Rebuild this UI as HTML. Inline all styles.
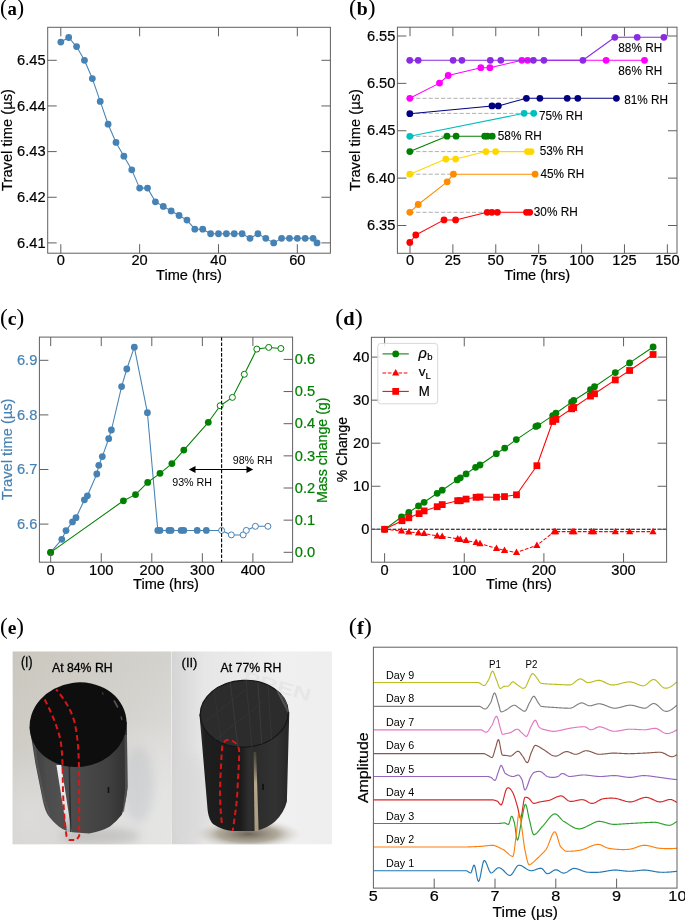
<!DOCTYPE html>
<html><head><meta charset="utf-8"><style>html,body{margin:0;padding:0;background:#fff;width:685px;height:920px;overflow:hidden}svg{display:block;will-change:transform}text{font-family:"Liberation Sans",sans-serif}</style></head><body>
<svg width="685" height="920" viewBox="0 0 685 920">
<rect width="685" height="920" fill="#fff"/>
<text x="0" y="14.6" style="font-family:'Liberation Serif',serif" font-size="22.5" textLength="24.2" lengthAdjust="spacingAndGlyphs">(<tspan font-size="19" style="font-weight:bold">a</tspan>)</text>
<polyline points="60.8,42.04 68.68,37.48 76.57,46.6 84.45,60.3 92.34,78.56 100.22,101.39 108.1,124.21 115.99,142.47 123.87,156.16 131.76,169.86 139.64,188.12 147.52,188.12 155.41,201.82 163.29,206.38 171.18,210.95 179.06,215.51 186.94,220.08 194.83,229.2 202.71,229.2 210.6,233.77 218.48,233.77 226.36,233.77 234.25,233.77 242.13,233.77 250.02,238.34 257.9,233.77 265.78,238.34 273.67,242.9 281.55,238.34 289.44,238.34 297.32,238.34 305.2,238.34 313.09,238.34 317.03,242.9" fill="none" stroke="#4682b4" stroke-width="1.05" stroke-linejoin="round"/>
<circle cx="60.8" cy="42.04" r="3.4" fill="#4682b4"/>
<circle cx="68.68" cy="37.48" r="3.4" fill="#4682b4"/>
<circle cx="76.57" cy="46.6" r="3.4" fill="#4682b4"/>
<circle cx="84.45" cy="60.3" r="3.4" fill="#4682b4"/>
<circle cx="92.34" cy="78.56" r="3.4" fill="#4682b4"/>
<circle cx="100.22" cy="101.39" r="3.4" fill="#4682b4"/>
<circle cx="108.1" cy="124.21" r="3.4" fill="#4682b4"/>
<circle cx="115.99" cy="142.47" r="3.4" fill="#4682b4"/>
<circle cx="123.87" cy="156.16" r="3.4" fill="#4682b4"/>
<circle cx="131.76" cy="169.86" r="3.4" fill="#4682b4"/>
<circle cx="139.64" cy="188.12" r="3.4" fill="#4682b4"/>
<circle cx="147.52" cy="188.12" r="3.4" fill="#4682b4"/>
<circle cx="155.41" cy="201.82" r="3.4" fill="#4682b4"/>
<circle cx="163.29" cy="206.38" r="3.4" fill="#4682b4"/>
<circle cx="171.18" cy="210.95" r="3.4" fill="#4682b4"/>
<circle cx="179.06" cy="215.51" r="3.4" fill="#4682b4"/>
<circle cx="186.94" cy="220.08" r="3.4" fill="#4682b4"/>
<circle cx="194.83" cy="229.2" r="3.4" fill="#4682b4"/>
<circle cx="202.71" cy="229.2" r="3.4" fill="#4682b4"/>
<circle cx="210.6" cy="233.77" r="3.4" fill="#4682b4"/>
<circle cx="218.48" cy="233.77" r="3.4" fill="#4682b4"/>
<circle cx="226.36" cy="233.77" r="3.4" fill="#4682b4"/>
<circle cx="234.25" cy="233.77" r="3.4" fill="#4682b4"/>
<circle cx="242.13" cy="233.77" r="3.4" fill="#4682b4"/>
<circle cx="250.02" cy="238.34" r="3.4" fill="#4682b4"/>
<circle cx="257.9" cy="233.77" r="3.4" fill="#4682b4"/>
<circle cx="265.78" cy="238.34" r="3.4" fill="#4682b4"/>
<circle cx="273.67" cy="242.9" r="3.4" fill="#4682b4"/>
<circle cx="281.55" cy="238.34" r="3.4" fill="#4682b4"/>
<circle cx="289.44" cy="238.34" r="3.4" fill="#4682b4"/>
<circle cx="297.32" cy="238.34" r="3.4" fill="#4682b4"/>
<circle cx="305.2" cy="238.34" r="3.4" fill="#4682b4"/>
<circle cx="313.09" cy="238.34" r="3.4" fill="#4682b4"/>
<circle cx="317.03" cy="242.9" r="3.4" fill="#4682b4"/>
<rect x="47.7" y="27.3" width="282.7" height="225.9" fill="none" stroke="#606060" stroke-width="1"/>
<line x1="60.8" y1="253.2" x2="60.8" y2="244.2" stroke="#606060" stroke-width="1"/>
<line x1="60.8" y1="27.3" x2="60.8" y2="36.3" stroke="#606060" stroke-width="1"/>
<line x1="139.64" y1="253.2" x2="139.64" y2="244.2" stroke="#606060" stroke-width="1"/>
<line x1="139.64" y1="27.3" x2="139.64" y2="36.3" stroke="#606060" stroke-width="1"/>
<line x1="218.48" y1="253.2" x2="218.48" y2="244.2" stroke="#606060" stroke-width="1"/>
<line x1="218.48" y1="27.3" x2="218.48" y2="36.3" stroke="#606060" stroke-width="1"/>
<line x1="297.32" y1="253.2" x2="297.32" y2="244.2" stroke="#606060" stroke-width="1"/>
<line x1="297.32" y1="27.3" x2="297.32" y2="36.3" stroke="#606060" stroke-width="1"/>
<line x1="47.7" y1="242.9" x2="56.7" y2="242.9" stroke="#606060" stroke-width="1"/>
<line x1="330.4" y1="242.9" x2="321.4" y2="242.9" stroke="#606060" stroke-width="1"/>
<line x1="47.7" y1="197.25" x2="56.7" y2="197.25" stroke="#606060" stroke-width="1"/>
<line x1="330.4" y1="197.25" x2="321.4" y2="197.25" stroke="#606060" stroke-width="1"/>
<line x1="47.7" y1="151.6" x2="56.7" y2="151.6" stroke="#606060" stroke-width="1"/>
<line x1="330.4" y1="151.6" x2="321.4" y2="151.6" stroke="#606060" stroke-width="1"/>
<line x1="47.7" y1="105.95" x2="56.7" y2="105.95" stroke="#606060" stroke-width="1"/>
<line x1="330.4" y1="105.95" x2="321.4" y2="105.95" stroke="#606060" stroke-width="1"/>
<line x1="47.7" y1="60.3" x2="56.7" y2="60.3" stroke="#606060" stroke-width="1"/>
<line x1="330.4" y1="60.3" x2="321.4" y2="60.3" stroke="#606060" stroke-width="1"/>
<text x="60.8" y="265.3" font-size="13.82" text-anchor="middle" stroke="#000" stroke-width="0.2" textLength="8.14" lengthAdjust="spacingAndGlyphs">0</text>
<text x="139.64" y="265.3" font-size="13.82" text-anchor="middle" stroke="#000" stroke-width="0.2" textLength="16.29" lengthAdjust="spacingAndGlyphs">20</text>
<text x="218.48" y="265.3" font-size="13.82" text-anchor="middle" stroke="#000" stroke-width="0.2" textLength="16.29" lengthAdjust="spacingAndGlyphs">40</text>
<text x="297.32" y="265.3" font-size="13.82" text-anchor="middle" stroke="#000" stroke-width="0.2" textLength="16.29" lengthAdjust="spacingAndGlyphs">60</text>
<text x="45.6" y="247.57" font-size="13.82" text-anchor="end" stroke="#000" stroke-width="0.2" textLength="28.5" lengthAdjust="spacingAndGlyphs">6.41</text>
<text x="45.6" y="201.92" font-size="13.82" text-anchor="end" stroke="#000" stroke-width="0.2" textLength="28.5" lengthAdjust="spacingAndGlyphs">6.42</text>
<text x="45.6" y="156.27" font-size="13.82" text-anchor="end" stroke="#000" stroke-width="0.2" textLength="28.5" lengthAdjust="spacingAndGlyphs">6.43</text>
<text x="45.6" y="110.62" font-size="13.82" text-anchor="end" stroke="#000" stroke-width="0.2" textLength="28.5" lengthAdjust="spacingAndGlyphs">6.44</text>
<text x="45.6" y="64.97" font-size="13.82" text-anchor="end" stroke="#000" stroke-width="0.2" textLength="28.5" lengthAdjust="spacingAndGlyphs">6.45</text>
<text x="189" y="279.6" font-size="13.82" text-anchor="middle" stroke="#000" stroke-width="0.2" textLength="65.82" lengthAdjust="spacingAndGlyphs">Time (hrs)</text>
<text x="11.5" y="140" font-size="13.82" text-anchor="middle" stroke="#000" stroke-width="0.2" textLength="101.79" lengthAdjust="spacingAndGlyphs" transform="rotate(-90 11.5 140)">Travel time (µs)</text>
<text x="348.9" y="14.6" style="font-family:'Liberation Serif',serif" font-size="22.5" textLength="26.6" lengthAdjust="spacingAndGlyphs">(<tspan font-size="19" style="font-weight:bold">b</tspan>)</text>
<line x1="410" y1="212.3" x2="487" y2="212.3" stroke="#b0b0b0" stroke-width="1" stroke-dasharray="4.2,2"/>
<line x1="410" y1="174.2" x2="453.4" y2="174.2" stroke="#b0b0b0" stroke-width="1" stroke-dasharray="4.2,2"/>
<line x1="410" y1="151.6" x2="486" y2="151.6" stroke="#b0b0b0" stroke-width="1" stroke-dasharray="4.2,2"/>
<line x1="410" y1="136.3" x2="447" y2="136.3" stroke="#b0b0b0" stroke-width="1" stroke-dasharray="4.2,2"/>
<line x1="410" y1="113.4" x2="524" y2="113.4" stroke="#b0b0b0" stroke-width="1" stroke-dasharray="4.2,2"/>
<line x1="410" y1="98.3" x2="526.4" y2="98.3" stroke="#b0b0b0" stroke-width="1" stroke-dasharray="4.2,2"/>
<polyline points="409.8,242.5 415.8,235 444,219.9 455.6,219.9 487.2,212.3 491.9,212.3 497.4,212.3 526.5,212.3 529.7,212.3" fill="none" stroke="#ff0000" stroke-width="1.05" stroke-linejoin="round"/>
<circle cx="409.8" cy="242.5" r="3.4" fill="#ff0000"/>
<circle cx="415.8" cy="235" r="3.4" fill="#ff0000"/>
<circle cx="444" cy="219.9" r="3.4" fill="#ff0000"/>
<circle cx="455.6" cy="219.9" r="3.4" fill="#ff0000"/>
<circle cx="487.2" cy="212.3" r="3.4" fill="#ff0000"/>
<circle cx="491.9" cy="212.3" r="3.4" fill="#ff0000"/>
<circle cx="497.4" cy="212.3" r="3.4" fill="#ff0000"/>
<circle cx="526.5" cy="212.3" r="3.4" fill="#ff0000"/>
<circle cx="529.7" cy="212.3" r="3.4" fill="#ff0000"/>
<polyline points="409.8,212.3 418.2,204.5 447.2,181.8 453.4,174.2 535.1,174.2" fill="none" stroke="#ff8c00" stroke-width="1.05" stroke-linejoin="round"/>
<circle cx="409.8" cy="212.3" r="3.4" fill="#ff8c00"/>
<circle cx="418.2" cy="204.5" r="3.4" fill="#ff8c00"/>
<circle cx="447.2" cy="181.8" r="3.4" fill="#ff8c00"/>
<circle cx="453.4" cy="174.2" r="3.4" fill="#ff8c00"/>
<circle cx="535.1" cy="174.2" r="3.4" fill="#ff8c00"/>
<polyline points="409.8,174.2 445.8,159.1 455.6,159.1 485.9,151.6 495.6,151.6 527.5,151.6 531,151.6" fill="none" stroke="#ffd700" stroke-width="1.05" stroke-linejoin="round"/>
<circle cx="409.8" cy="174.2" r="3.4" fill="#ffd700"/>
<circle cx="445.8" cy="159.1" r="3.4" fill="#ffd700"/>
<circle cx="455.6" cy="159.1" r="3.4" fill="#ffd700"/>
<circle cx="485.9" cy="151.6" r="3.4" fill="#ffd700"/>
<circle cx="495.6" cy="151.6" r="3.4" fill="#ffd700"/>
<circle cx="527.5" cy="151.6" r="3.4" fill="#ffd700"/>
<circle cx="531" cy="151.6" r="3.4" fill="#ffd700"/>
<polyline points="409.8,151.6 447,136.2 456.1,136.2 484.7,136.2 487.3,136.2 492.2,136.2" fill="none" stroke="#008000" stroke-width="1.05" stroke-linejoin="round"/>
<circle cx="409.8" cy="151.6" r="3.4" fill="#008000"/>
<circle cx="447" cy="136.2" r="3.4" fill="#008000"/>
<circle cx="456.1" cy="136.2" r="3.4" fill="#008000"/>
<circle cx="484.7" cy="136.2" r="3.4" fill="#008000"/>
<circle cx="487.3" cy="136.2" r="3.4" fill="#008000"/>
<circle cx="492.2" cy="136.2" r="3.4" fill="#008000"/>
<polyline points="409.8,136.3 524.1,113.3 533.7,113.3" fill="none" stroke="#00bfbf" stroke-width="1.05" stroke-linejoin="round"/>
<circle cx="409.8" cy="136.3" r="3.4" fill="#00bfbf"/>
<circle cx="524.1" cy="113.3" r="3.4" fill="#00bfbf"/>
<circle cx="533.7" cy="113.3" r="3.4" fill="#00bfbf"/>
<polyline points="409.8,113.7 492,105.9 498.3,105.9 526.4,98.3 539.9,98.3 567.2,98.3 577.8,98.3 616.4,98.3" fill="none" stroke="#000080" stroke-width="1.05" stroke-linejoin="round"/>
<circle cx="409.8" cy="113.7" r="3.4" fill="#000080"/>
<circle cx="492" cy="105.9" r="3.4" fill="#000080"/>
<circle cx="498.3" cy="105.9" r="3.4" fill="#000080"/>
<circle cx="526.4" cy="98.3" r="3.4" fill="#000080"/>
<circle cx="539.9" cy="98.3" r="3.4" fill="#000080"/>
<circle cx="567.2" cy="98.3" r="3.4" fill="#000080"/>
<circle cx="577.8" cy="98.3" r="3.4" fill="#000080"/>
<circle cx="616.4" cy="98.3" r="3.4" fill="#000080"/>
<polyline points="409.8,98.3 439.5,83.1 448.2,75.5 480.8,67.7 489.9,67.7 521.8,60.3 527.6,60.3 606.1,60.3 644.5,60.3" fill="none" stroke="#ff00ff" stroke-width="1.05" stroke-linejoin="round"/>
<circle cx="409.8" cy="98.3" r="3.4" fill="#ff00ff"/>
<circle cx="439.5" cy="83.1" r="3.4" fill="#ff00ff"/>
<circle cx="448.2" cy="75.5" r="3.4" fill="#ff00ff"/>
<circle cx="480.8" cy="67.7" r="3.4" fill="#ff00ff"/>
<circle cx="489.9" cy="67.7" r="3.4" fill="#ff00ff"/>
<circle cx="521.8" cy="60.3" r="3.4" fill="#ff00ff"/>
<circle cx="527.6" cy="60.3" r="3.4" fill="#ff00ff"/>
<circle cx="606.1" cy="60.3" r="3.4" fill="#ff00ff"/>
<circle cx="644.5" cy="60.3" r="3.4" fill="#ff00ff"/>
<polyline points="409.75,60.3 418.2,60.3 453.1,60.3 461.9,60.3 490.3,60.3 500.8,60.3 533.4,60.3 543.9,60.3 582.9,60.3 614.8,37.3 637.2,37.3 663.9,37.3" fill="none" stroke="#8a2be2" stroke-width="1.05" stroke-linejoin="round"/>
<circle cx="409.75" cy="60.3" r="3.4" fill="#8a2be2"/>
<circle cx="418.2" cy="60.3" r="3.4" fill="#8a2be2"/>
<circle cx="453.1" cy="60.3" r="3.4" fill="#8a2be2"/>
<circle cx="461.9" cy="60.3" r="3.4" fill="#8a2be2"/>
<circle cx="490.3" cy="60.3" r="3.4" fill="#8a2be2"/>
<circle cx="500.8" cy="60.3" r="3.4" fill="#8a2be2"/>
<circle cx="533.4" cy="60.3" r="3.4" fill="#8a2be2"/>
<circle cx="543.9" cy="60.3" r="3.4" fill="#8a2be2"/>
<circle cx="582.9" cy="60.3" r="3.4" fill="#8a2be2"/>
<circle cx="614.8" cy="37.3" r="3.4" fill="#8a2be2"/>
<circle cx="637.2" cy="37.3" r="3.4" fill="#8a2be2"/>
<circle cx="663.9" cy="37.3" r="3.4" fill="#8a2be2"/>
<text x="618.3" y="52.01" font-size="11.88" stroke="#000" stroke-width="0.1" textLength="43.86" lengthAdjust="spacingAndGlyphs">88% RH</text>
<text x="618.3" y="74.81" font-size="11.88" stroke="#000" stroke-width="0.1" textLength="43.86" lengthAdjust="spacingAndGlyphs">86% RH</text>
<text x="624.2" y="104.01" font-size="11.88" stroke="#000" stroke-width="0.1" textLength="43.86" lengthAdjust="spacingAndGlyphs">81% RH</text>
<text x="539" y="119.51" font-size="11.88" stroke="#000" stroke-width="0.1" textLength="43.86" lengthAdjust="spacingAndGlyphs">75% RH</text>
<text x="497.8" y="140.21" font-size="11.88" stroke="#000" stroke-width="0.1" textLength="43.86" lengthAdjust="spacingAndGlyphs">58% RH</text>
<text x="539.7" y="154.51" font-size="11.88" stroke="#000" stroke-width="0.1" textLength="43.86" lengthAdjust="spacingAndGlyphs">53% RH</text>
<text x="540.5" y="178.01" font-size="11.88" stroke="#000" stroke-width="0.1" textLength="43.86" lengthAdjust="spacingAndGlyphs">45% RH</text>
<text x="533.8" y="216.41" font-size="11.88" stroke="#000" stroke-width="0.1" textLength="43.86" lengthAdjust="spacingAndGlyphs">30% RH</text>
<rect x="397.4" y="27.2" width="279.6" height="226.1" fill="none" stroke="#606060" stroke-width="1"/>
<line x1="410" y1="253.3" x2="410" y2="244.3" stroke="#606060" stroke-width="1"/>
<line x1="410" y1="27.2" x2="410" y2="36.2" stroke="#606060" stroke-width="1"/>
<line x1="452.89" y1="253.3" x2="452.89" y2="244.3" stroke="#606060" stroke-width="1"/>
<line x1="452.89" y1="27.2" x2="452.89" y2="36.2" stroke="#606060" stroke-width="1"/>
<line x1="495.78" y1="253.3" x2="495.78" y2="244.3" stroke="#606060" stroke-width="1"/>
<line x1="495.78" y1="27.2" x2="495.78" y2="36.2" stroke="#606060" stroke-width="1"/>
<line x1="538.68" y1="253.3" x2="538.68" y2="244.3" stroke="#606060" stroke-width="1"/>
<line x1="538.68" y1="27.2" x2="538.68" y2="36.2" stroke="#606060" stroke-width="1"/>
<line x1="581.57" y1="253.3" x2="581.57" y2="244.3" stroke="#606060" stroke-width="1"/>
<line x1="581.57" y1="27.2" x2="581.57" y2="36.2" stroke="#606060" stroke-width="1"/>
<line x1="624.46" y1="253.3" x2="624.46" y2="244.3" stroke="#606060" stroke-width="1"/>
<line x1="624.46" y1="27.2" x2="624.46" y2="36.2" stroke="#606060" stroke-width="1"/>
<line x1="667.36" y1="253.3" x2="667.36" y2="244.3" stroke="#606060" stroke-width="1"/>
<line x1="667.36" y1="27.2" x2="667.36" y2="36.2" stroke="#606060" stroke-width="1"/>
<line x1="397.4" y1="225.5" x2="406.4" y2="225.5" stroke="#606060" stroke-width="1"/>
<line x1="677" y1="225.5" x2="668" y2="225.5" stroke="#606060" stroke-width="1"/>
<line x1="397.4" y1="178.12" x2="406.4" y2="178.12" stroke="#606060" stroke-width="1"/>
<line x1="677" y1="178.12" x2="668" y2="178.12" stroke="#606060" stroke-width="1"/>
<line x1="397.4" y1="130.75" x2="406.4" y2="130.75" stroke="#606060" stroke-width="1"/>
<line x1="677" y1="130.75" x2="668" y2="130.75" stroke="#606060" stroke-width="1"/>
<line x1="397.4" y1="83.37" x2="406.4" y2="83.37" stroke="#606060" stroke-width="1"/>
<line x1="677" y1="83.37" x2="668" y2="83.37" stroke="#606060" stroke-width="1"/>
<line x1="397.4" y1="36" x2="406.4" y2="36" stroke="#606060" stroke-width="1"/>
<line x1="677" y1="36" x2="668" y2="36" stroke="#606060" stroke-width="1"/>
<text x="410" y="264.6" font-size="13.82" text-anchor="middle" stroke="#000" stroke-width="0.2" textLength="8.14" lengthAdjust="spacingAndGlyphs">0</text>
<text x="452.89" y="264.6" font-size="13.82" text-anchor="middle" stroke="#000" stroke-width="0.2" textLength="16.29" lengthAdjust="spacingAndGlyphs">25</text>
<text x="495.78" y="264.6" font-size="13.82" text-anchor="middle" stroke="#000" stroke-width="0.2" textLength="16.29" lengthAdjust="spacingAndGlyphs">50</text>
<text x="538.68" y="264.6" font-size="13.82" text-anchor="middle" stroke="#000" stroke-width="0.2" textLength="16.29" lengthAdjust="spacingAndGlyphs">75</text>
<text x="581.57" y="264.6" font-size="13.82" text-anchor="middle" stroke="#000" stroke-width="0.2" textLength="24.43" lengthAdjust="spacingAndGlyphs">100</text>
<text x="624.46" y="264.6" font-size="13.82" text-anchor="middle" stroke="#000" stroke-width="0.2" textLength="24.43" lengthAdjust="spacingAndGlyphs">125</text>
<text x="667.36" y="264.6" font-size="13.82" text-anchor="middle" stroke="#000" stroke-width="0.2" textLength="24.43" lengthAdjust="spacingAndGlyphs">150</text>
<text x="395.4" y="230.17" font-size="13.82" text-anchor="end" stroke="#000" stroke-width="0.2" textLength="28.5" lengthAdjust="spacingAndGlyphs">6.35</text>
<text x="395.4" y="182.79" font-size="13.82" text-anchor="end" stroke="#000" stroke-width="0.2" textLength="28.5" lengthAdjust="spacingAndGlyphs">6.40</text>
<text x="395.4" y="135.42" font-size="13.82" text-anchor="end" stroke="#000" stroke-width="0.2" textLength="28.5" lengthAdjust="spacingAndGlyphs">6.45</text>
<text x="395.4" y="88.04" font-size="13.82" text-anchor="end" stroke="#000" stroke-width="0.2" textLength="28.5" lengthAdjust="spacingAndGlyphs">6.50</text>
<text x="395.4" y="40.67" font-size="13.82" text-anchor="end" stroke="#000" stroke-width="0.2" textLength="28.5" lengthAdjust="spacingAndGlyphs">6.55</text>
<text x="537.2" y="279.6" font-size="13.82" text-anchor="middle" stroke="#000" stroke-width="0.2" textLength="65.82" lengthAdjust="spacingAndGlyphs">Time (hrs)</text>
<text x="360.1" y="140" font-size="13.82" text-anchor="middle" stroke="#000" stroke-width="0.2" textLength="101.79" lengthAdjust="spacingAndGlyphs" transform="rotate(-90 360.1 140)">Travel time (µs)</text>
<text x="0" y="324.5" style="font-family:'Liberation Serif',serif" font-size="22.5" textLength="24.3" lengthAdjust="spacingAndGlyphs">(<tspan font-size="19" style="font-weight:bold">c</tspan>)</text>
<polyline points="50.6,552.4 61.8,539.3 66,530.6 72.5,521.9 76,517.7 84.4,499.8 87.4,495.8 96.8,474 98.8,465.3 102.3,456.6 108.7,438.7 111.4,430 121.6,386.6 126.8,369 134.3,347.2 147.4,412.7 157.8,530.4 160,530.4 168.9,530.4 171.1,530.4 181.1,530.4 183.8,530.4 197.2,530.4 206.3,530.4 221.6,530.4 231.3,534.9 243.2,534.9 246.3,530.4 255.4,526.3 267.9,526.3" fill="none" stroke="#4682b4" stroke-width="1.05" stroke-linejoin="round"/>
<circle cx="50.6" cy="552.4" r="3.4" fill="#4682b4"/>
<circle cx="61.8" cy="539.3" r="3.4" fill="#4682b4"/>
<circle cx="66" cy="530.6" r="3.4" fill="#4682b4"/>
<circle cx="72.5" cy="521.9" r="3.4" fill="#4682b4"/>
<circle cx="76" cy="517.7" r="3.4" fill="#4682b4"/>
<circle cx="84.4" cy="499.8" r="3.4" fill="#4682b4"/>
<circle cx="87.4" cy="495.8" r="3.4" fill="#4682b4"/>
<circle cx="96.8" cy="474" r="3.4" fill="#4682b4"/>
<circle cx="98.8" cy="465.3" r="3.4" fill="#4682b4"/>
<circle cx="102.3" cy="456.6" r="3.4" fill="#4682b4"/>
<circle cx="108.7" cy="438.7" r="3.4" fill="#4682b4"/>
<circle cx="111.4" cy="430" r="3.4" fill="#4682b4"/>
<circle cx="121.6" cy="386.6" r="3.4" fill="#4682b4"/>
<circle cx="126.8" cy="369" r="3.4" fill="#4682b4"/>
<circle cx="134.3" cy="347.2" r="3.4" fill="#4682b4"/>
<circle cx="147.4" cy="412.7" r="3.4" fill="#4682b4"/>
<circle cx="157.8" cy="530.4" r="3.4" fill="#4682b4"/>
<circle cx="160" cy="530.4" r="3.4" fill="#4682b4"/>
<circle cx="168.9" cy="530.4" r="3.4" fill="#4682b4"/>
<circle cx="171.1" cy="530.4" r="3.4" fill="#4682b4"/>
<circle cx="181.1" cy="530.4" r="3.4" fill="#4682b4"/>
<circle cx="183.8" cy="530.4" r="3.4" fill="#4682b4"/>
<circle cx="197.2" cy="530.4" r="3.4" fill="#4682b4"/>
<circle cx="206.3" cy="530.4" r="3.4" fill="#4682b4"/>
<circle cx="221.6" cy="530.4" r="3" fill="#fff" stroke="#4682b4" stroke-width="1"/>
<circle cx="231.3" cy="534.9" r="3" fill="#fff" stroke="#4682b4" stroke-width="1"/>
<circle cx="243.2" cy="534.9" r="3" fill="#fff" stroke="#4682b4" stroke-width="1"/>
<circle cx="246.3" cy="530.4" r="3" fill="#fff" stroke="#4682b4" stroke-width="1"/>
<circle cx="255.4" cy="526.3" r="3" fill="#fff" stroke="#4682b4" stroke-width="1"/>
<circle cx="267.9" cy="526.3" r="3" fill="#fff" stroke="#4682b4" stroke-width="1"/>
<polyline points="50.6,552.4 123.4,500.8 135.5,494.6 147.7,482.4 160,473.3 171.9,463.6 183.8,450.1 208.3,422.3 220.2,405.7 232.4,397.4 244.3,374.3 256.8,349.1 268.7,347.4 280.9,348.5" fill="none" stroke="#008000" stroke-width="1.05" stroke-linejoin="round"/>
<circle cx="50.6" cy="552.4" r="3.4" fill="#008000"/>
<circle cx="123.4" cy="500.8" r="3.4" fill="#008000"/>
<circle cx="135.5" cy="494.6" r="3.4" fill="#008000"/>
<circle cx="147.7" cy="482.4" r="3.4" fill="#008000"/>
<circle cx="160" cy="473.3" r="3.4" fill="#008000"/>
<circle cx="171.9" cy="463.6" r="3.4" fill="#008000"/>
<circle cx="183.8" cy="450.1" r="3.4" fill="#008000"/>
<circle cx="208.3" cy="422.3" r="3.4" fill="#008000"/>
<circle cx="220.2" cy="405.7" r="3" fill="#fff" stroke="#008000" stroke-width="1"/>
<circle cx="232.4" cy="397.4" r="3" fill="#fff" stroke="#008000" stroke-width="1"/>
<circle cx="244.3" cy="374.3" r="3" fill="#fff" stroke="#008000" stroke-width="1"/>
<circle cx="256.8" cy="349.1" r="3" fill="#fff" stroke="#008000" stroke-width="1"/>
<circle cx="268.7" cy="347.4" r="3" fill="#fff" stroke="#008000" stroke-width="1"/>
<circle cx="280.9" cy="348.5" r="3" fill="#fff" stroke="#008000" stroke-width="1"/>
<line x1="221.6" y1="337.1" x2="221.6" y2="562.2" stroke="#000" stroke-width="1.1" stroke-dasharray="3.7,1.6"/>
<line x1="193" y1="469.5" x2="249" y2="469.5" stroke="#000" stroke-width="1.2"/>
<path d="M188.8,469.5 L195.5,466 L195.5,473 Z" fill="#000"/>
<path d="M253.2,469.5 L246.5,466 L246.5,473 Z" fill="#000"/>
<text x="232.7" y="463.84" font-size="10.8" textLength="39.87" lengthAdjust="spacingAndGlyphs">98% RH</text>
<text x="172.2" y="486.04" font-size="10.8" textLength="39.87" lengthAdjust="spacingAndGlyphs">93% RH</text>
<rect x="39.4" y="337.1" width="253.2" height="225.1" fill="none" stroke="#606060" stroke-width="1"/>
<line x1="50.7" y1="562.2" x2="50.7" y2="553.2" stroke="#606060" stroke-width="1"/>
<line x1="50.7" y1="337.1" x2="50.7" y2="346.1" stroke="#606060" stroke-width="1"/>
<line x1="101.25" y1="562.2" x2="101.25" y2="553.2" stroke="#606060" stroke-width="1"/>
<line x1="101.25" y1="337.1" x2="101.25" y2="346.1" stroke="#606060" stroke-width="1"/>
<line x1="151.8" y1="562.2" x2="151.8" y2="553.2" stroke="#606060" stroke-width="1"/>
<line x1="151.8" y1="337.1" x2="151.8" y2="346.1" stroke="#606060" stroke-width="1"/>
<line x1="202.35" y1="562.2" x2="202.35" y2="553.2" stroke="#606060" stroke-width="1"/>
<line x1="202.35" y1="337.1" x2="202.35" y2="346.1" stroke="#606060" stroke-width="1"/>
<line x1="252.9" y1="562.2" x2="252.9" y2="553.2" stroke="#606060" stroke-width="1"/>
<line x1="252.9" y1="337.1" x2="252.9" y2="346.1" stroke="#606060" stroke-width="1"/>
<line x1="39.4" y1="524.1" x2="48.4" y2="524.1" stroke="#606060" stroke-width="1"/>
<line x1="39.4" y1="469.5" x2="48.4" y2="469.5" stroke="#606060" stroke-width="1"/>
<line x1="39.4" y1="414.9" x2="48.4" y2="414.9" stroke="#606060" stroke-width="1"/>
<line x1="39.4" y1="360.3" x2="48.4" y2="360.3" stroke="#606060" stroke-width="1"/>
<line x1="292.6" y1="552.3" x2="283.6" y2="552.3" stroke="#606060" stroke-width="1"/>
<line x1="292.6" y1="520.15" x2="283.6" y2="520.15" stroke="#606060" stroke-width="1"/>
<line x1="292.6" y1="488" x2="283.6" y2="488" stroke="#606060" stroke-width="1"/>
<line x1="292.6" y1="455.85" x2="283.6" y2="455.85" stroke="#606060" stroke-width="1"/>
<line x1="292.6" y1="423.7" x2="283.6" y2="423.7" stroke="#606060" stroke-width="1"/>
<line x1="292.6" y1="391.55" x2="283.6" y2="391.55" stroke="#606060" stroke-width="1"/>
<line x1="292.6" y1="359.4" x2="283.6" y2="359.4" stroke="#606060" stroke-width="1"/>
<text x="50.7" y="575" font-size="13.82" text-anchor="middle" stroke="#000" stroke-width="0.2" textLength="8.14" lengthAdjust="spacingAndGlyphs">0</text>
<text x="101.25" y="575" font-size="13.82" text-anchor="middle" stroke="#000" stroke-width="0.2" textLength="24.43" lengthAdjust="spacingAndGlyphs">100</text>
<text x="151.8" y="575" font-size="13.82" text-anchor="middle" stroke="#000" stroke-width="0.2" textLength="24.43" lengthAdjust="spacingAndGlyphs">200</text>
<text x="202.35" y="575" font-size="13.82" text-anchor="middle" stroke="#000" stroke-width="0.2" textLength="24.43" lengthAdjust="spacingAndGlyphs">300</text>
<text x="252.9" y="575" font-size="13.82" text-anchor="middle" stroke="#000" stroke-width="0.2" textLength="24.43" lengthAdjust="spacingAndGlyphs">400</text>
<text x="37.3" y="528.77" font-size="13.82" text-anchor="end" fill="#4682b4" stroke="#4682b4" stroke-width="0.2" textLength="20.36" lengthAdjust="spacingAndGlyphs">6.6</text>
<text x="37.3" y="474.17" font-size="13.82" text-anchor="end" fill="#4682b4" stroke="#4682b4" stroke-width="0.2" textLength="20.36" lengthAdjust="spacingAndGlyphs">6.7</text>
<text x="37.3" y="419.57" font-size="13.82" text-anchor="end" fill="#4682b4" stroke="#4682b4" stroke-width="0.2" textLength="20.36" lengthAdjust="spacingAndGlyphs">6.8</text>
<text x="37.3" y="364.97" font-size="13.82" text-anchor="end" fill="#4682b4" stroke="#4682b4" stroke-width="0.2" textLength="20.36" lengthAdjust="spacingAndGlyphs">6.9</text>
<text x="294.8" y="556.97" font-size="13.82" fill="#008000" stroke="#008000" stroke-width="0.2" textLength="20.36" lengthAdjust="spacingAndGlyphs">0.0</text>
<text x="294.8" y="524.82" font-size="13.82" fill="#008000" stroke="#008000" stroke-width="0.2" textLength="20.36" lengthAdjust="spacingAndGlyphs">0.1</text>
<text x="294.8" y="492.67" font-size="13.82" fill="#008000" stroke="#008000" stroke-width="0.2" textLength="20.36" lengthAdjust="spacingAndGlyphs">0.2</text>
<text x="294.8" y="460.52" font-size="13.82" fill="#008000" stroke="#008000" stroke-width="0.2" textLength="20.36" lengthAdjust="spacingAndGlyphs">0.3</text>
<text x="294.8" y="428.37" font-size="13.82" fill="#008000" stroke="#008000" stroke-width="0.2" textLength="20.36" lengthAdjust="spacingAndGlyphs">0.4</text>
<text x="294.8" y="396.22" font-size="13.82" fill="#008000" stroke="#008000" stroke-width="0.2" textLength="20.36" lengthAdjust="spacingAndGlyphs">0.5</text>
<text x="294.8" y="364.07" font-size="13.82" fill="#008000" stroke="#008000" stroke-width="0.2" textLength="20.36" lengthAdjust="spacingAndGlyphs">0.6</text>
<text x="166" y="589.2" font-size="13.82" text-anchor="middle" stroke="#000" stroke-width="0.2" textLength="65.82" lengthAdjust="spacingAndGlyphs">Time (hrs)</text>
<text x="11.8" y="449.4" font-size="13.82" text-anchor="middle" fill="#4682b4" stroke="#4682b4" stroke-width="0.2" textLength="101.79" lengthAdjust="spacingAndGlyphs" transform="rotate(-90 11.8 449.4)">Travel time (µs)</text>
<text x="326.8" y="450.3" font-size="13.82" text-anchor="middle" fill="#008000" stroke="#008000" stroke-width="0.2" textLength="105.58" lengthAdjust="spacingAndGlyphs" transform="rotate(-90 326.8 450.3)">Mass change (g)</text>
<text x="335.3" y="324.5" style="font-family:'Liberation Serif',serif" font-size="22.5" textLength="27.5" lengthAdjust="spacingAndGlyphs">(<tspan font-size="19" style="font-weight:bold">d</tspan>)</text>
<line x1="371.4" y1="529.3" x2="666.6" y2="529.3" stroke="#000" stroke-width="1.1" stroke-dasharray="3.7,1.6"/>
<polyline points="384.6,529.3 401.5,517 408.8,512.3 418.5,506 424.1,502.3 437.2,493.3 442.2,490.2 457.2,479.9 460.3,477.8 466.1,473.9 475.6,467.3 480,465 496.3,453.7 504.7,448.1 516.3,439.6 535.9,426.4 537.8,425.6 552.7,415.6 555.9,413.2 571.6,402.1 573.7,400.5 590.5,389.7 594.5,386.7 615.3,372.6 629.6,362.9 653.1,347" fill="none" stroke="#008000" stroke-width="1.05" stroke-linejoin="round"/>
<circle cx="384.6" cy="529.3" r="3.4" fill="#008000"/>
<circle cx="401.5" cy="517" r="3.4" fill="#008000"/>
<circle cx="408.8" cy="512.3" r="3.4" fill="#008000"/>
<circle cx="418.5" cy="506" r="3.4" fill="#008000"/>
<circle cx="424.1" cy="502.3" r="3.4" fill="#008000"/>
<circle cx="437.2" cy="493.3" r="3.4" fill="#008000"/>
<circle cx="442.2" cy="490.2" r="3.4" fill="#008000"/>
<circle cx="457.2" cy="479.9" r="3.4" fill="#008000"/>
<circle cx="460.3" cy="477.8" r="3.4" fill="#008000"/>
<circle cx="466.1" cy="473.9" r="3.4" fill="#008000"/>
<circle cx="475.6" cy="467.3" r="3.4" fill="#008000"/>
<circle cx="480" cy="465" r="3.4" fill="#008000"/>
<circle cx="496.3" cy="453.7" r="3.4" fill="#008000"/>
<circle cx="504.7" cy="448.1" r="3.4" fill="#008000"/>
<circle cx="516.3" cy="439.6" r="3.4" fill="#008000"/>
<circle cx="535.9" cy="426.4" r="3.4" fill="#008000"/>
<circle cx="537.8" cy="425.6" r="3.4" fill="#008000"/>
<circle cx="552.7" cy="415.6" r="3.4" fill="#008000"/>
<circle cx="555.9" cy="413.2" r="3.4" fill="#008000"/>
<circle cx="571.6" cy="402.1" r="3.4" fill="#008000"/>
<circle cx="573.7" cy="400.5" r="3.4" fill="#008000"/>
<circle cx="590.5" cy="389.7" r="3.4" fill="#008000"/>
<circle cx="594.5" cy="386.7" r="3.4" fill="#008000"/>
<circle cx="615.3" cy="372.6" r="3.4" fill="#008000"/>
<circle cx="629.6" cy="362.9" r="3.4" fill="#008000"/>
<circle cx="653.1" cy="347" r="3.4" fill="#008000"/>
<polyline points="384.6,529.3 401.5,530.9 408.8,532 418.5,533 424.1,533.5 437.2,535.9 442.2,536.4 457.7,538.8 460.3,539.3 466.1,540.4 476.1,542.5 480,543.6 496.5,548.4 504.5,550.4 516.5,552.5 536.9,545.4 554.2,531.6 555.7,531.6 572.2,531.6 574,531.6 591.3,531.6 593.7,531.6 615.3,531.6 629.7,531.6 653,531.6" fill="none" stroke="#ff0000" stroke-width="1.05" stroke-linejoin="round" stroke-dasharray="3.7,1.6"/>
<path d="M384.6,525.41 L388.2,531.89 L381,531.89 Z" fill="#ff0000"/>
<path d="M401.5,527.01 L405.1,533.49 L397.9,533.49 Z" fill="#ff0000"/>
<path d="M408.8,528.11 L412.4,534.59 L405.2,534.59 Z" fill="#ff0000"/>
<path d="M418.5,529.11 L422.1,535.59 L414.9,535.59 Z" fill="#ff0000"/>
<path d="M424.1,529.61 L427.7,536.09 L420.5,536.09 Z" fill="#ff0000"/>
<path d="M437.2,532.01 L440.8,538.49 L433.6,538.49 Z" fill="#ff0000"/>
<path d="M442.2,532.51 L445.8,538.99 L438.6,538.99 Z" fill="#ff0000"/>
<path d="M457.7,534.91 L461.3,541.39 L454.1,541.39 Z" fill="#ff0000"/>
<path d="M460.3,535.41 L463.9,541.89 L456.7,541.89 Z" fill="#ff0000"/>
<path d="M466.1,536.51 L469.7,542.99 L462.5,542.99 Z" fill="#ff0000"/>
<path d="M476.1,538.61 L479.7,545.09 L472.5,545.09 Z" fill="#ff0000"/>
<path d="M480,539.71 L483.6,546.19 L476.4,546.19 Z" fill="#ff0000"/>
<path d="M496.5,544.51 L500.1,550.99 L492.9,550.99 Z" fill="#ff0000"/>
<path d="M504.5,546.51 L508.1,552.99 L500.9,552.99 Z" fill="#ff0000"/>
<path d="M516.5,548.61 L520.1,555.09 L512.9,555.09 Z" fill="#ff0000"/>
<path d="M536.9,541.51 L540.5,547.99 L533.3,547.99 Z" fill="#ff0000"/>
<path d="M554.2,527.71 L557.8,534.19 L550.6,534.19 Z" fill="#ff0000"/>
<path d="M555.7,527.71 L559.3,534.19 L552.1,534.19 Z" fill="#ff0000"/>
<path d="M572.2,527.71 L575.8,534.19 L568.6,534.19 Z" fill="#ff0000"/>
<path d="M574,527.71 L577.6,534.19 L570.4,534.19 Z" fill="#ff0000"/>
<path d="M591.3,527.71 L594.9,534.19 L587.7,534.19 Z" fill="#ff0000"/>
<path d="M593.7,527.71 L597.3,534.19 L590.1,534.19 Z" fill="#ff0000"/>
<path d="M615.3,527.71 L618.9,534.19 L611.7,534.19 Z" fill="#ff0000"/>
<path d="M629.7,527.71 L633.3,534.19 L626.1,534.19 Z" fill="#ff0000"/>
<path d="M653,527.71 L656.6,534.19 L649.4,534.19 Z" fill="#ff0000"/>
<polyline points="384.6,529.3 402,520.7 408.8,517.8 419.1,513.6 424.1,510.9 437.2,506.7 442.2,504.6 457.7,500.7 460.3,500.7 466.1,499.1 476.1,497.3 480,497 496.5,497.2 504.5,496.6 516.5,494.8 536.9,465.7 552.7,421.5 555.9,419.4 571.6,408.8 573.7,407.5 590.5,396.1 594.5,393.7 615.3,379.9 629.6,370.5 653.1,354.5" fill="none" stroke="#ff0000" stroke-width="1.05" stroke-linejoin="round"/>
<rect x="381.2" y="525.9" width="6.8" height="6.8" fill="#ff0000"/>
<rect x="398.6" y="517.3" width="6.8" height="6.8" fill="#ff0000"/>
<rect x="405.4" y="514.4" width="6.8" height="6.8" fill="#ff0000"/>
<rect x="415.7" y="510.2" width="6.8" height="6.8" fill="#ff0000"/>
<rect x="420.7" y="507.5" width="6.8" height="6.8" fill="#ff0000"/>
<rect x="433.8" y="503.3" width="6.8" height="6.8" fill="#ff0000"/>
<rect x="438.8" y="501.2" width="6.8" height="6.8" fill="#ff0000"/>
<rect x="454.3" y="497.3" width="6.8" height="6.8" fill="#ff0000"/>
<rect x="456.9" y="497.3" width="6.8" height="6.8" fill="#ff0000"/>
<rect x="462.7" y="495.7" width="6.8" height="6.8" fill="#ff0000"/>
<rect x="472.7" y="493.9" width="6.8" height="6.8" fill="#ff0000"/>
<rect x="476.6" y="493.6" width="6.8" height="6.8" fill="#ff0000"/>
<rect x="493.1" y="493.8" width="6.8" height="6.8" fill="#ff0000"/>
<rect x="501.1" y="493.2" width="6.8" height="6.8" fill="#ff0000"/>
<rect x="513.1" y="491.4" width="6.8" height="6.8" fill="#ff0000"/>
<rect x="533.5" y="462.3" width="6.8" height="6.8" fill="#ff0000"/>
<rect x="549.3" y="418.1" width="6.8" height="6.8" fill="#ff0000"/>
<rect x="552.5" y="416" width="6.8" height="6.8" fill="#ff0000"/>
<rect x="568.2" y="405.4" width="6.8" height="6.8" fill="#ff0000"/>
<rect x="570.3" y="404.1" width="6.8" height="6.8" fill="#ff0000"/>
<rect x="587.1" y="392.7" width="6.8" height="6.8" fill="#ff0000"/>
<rect x="591.1" y="390.3" width="6.8" height="6.8" fill="#ff0000"/>
<rect x="611.9" y="376.5" width="6.8" height="6.8" fill="#ff0000"/>
<rect x="626.2" y="367.1" width="6.8" height="6.8" fill="#ff0000"/>
<rect x="649.7" y="351.1" width="6.8" height="6.8" fill="#ff0000"/>
<rect x="371.4" y="337.3" width="295.2" height="224.9" fill="none" stroke="#606060" stroke-width="1"/>
<line x1="384.6" y1="562.2" x2="384.6" y2="553.2" stroke="#606060" stroke-width="1"/>
<line x1="384.6" y1="337.3" x2="384.6" y2="346.3" stroke="#606060" stroke-width="1"/>
<line x1="464.25" y1="562.2" x2="464.25" y2="553.2" stroke="#606060" stroke-width="1"/>
<line x1="464.25" y1="337.3" x2="464.25" y2="346.3" stroke="#606060" stroke-width="1"/>
<line x1="543.9" y1="562.2" x2="543.9" y2="553.2" stroke="#606060" stroke-width="1"/>
<line x1="543.9" y1="337.3" x2="543.9" y2="346.3" stroke="#606060" stroke-width="1"/>
<line x1="623.55" y1="562.2" x2="623.55" y2="553.2" stroke="#606060" stroke-width="1"/>
<line x1="623.55" y1="337.3" x2="623.55" y2="346.3" stroke="#606060" stroke-width="1"/>
<line x1="371.4" y1="529.3" x2="380.4" y2="529.3" stroke="#606060" stroke-width="1"/>
<line x1="666.6" y1="529.3" x2="657.6" y2="529.3" stroke="#606060" stroke-width="1"/>
<line x1="371.4" y1="486.25" x2="380.4" y2="486.25" stroke="#606060" stroke-width="1"/>
<line x1="666.6" y1="486.25" x2="657.6" y2="486.25" stroke="#606060" stroke-width="1"/>
<line x1="371.4" y1="443.2" x2="380.4" y2="443.2" stroke="#606060" stroke-width="1"/>
<line x1="666.6" y1="443.2" x2="657.6" y2="443.2" stroke="#606060" stroke-width="1"/>
<line x1="371.4" y1="400.15" x2="380.4" y2="400.15" stroke="#606060" stroke-width="1"/>
<line x1="666.6" y1="400.15" x2="657.6" y2="400.15" stroke="#606060" stroke-width="1"/>
<line x1="371.4" y1="357.1" x2="380.4" y2="357.1" stroke="#606060" stroke-width="1"/>
<line x1="666.6" y1="357.1" x2="657.6" y2="357.1" stroke="#606060" stroke-width="1"/>
<rect x="377.8" y="343.4" width="59.9" height="60.4" rx="3" fill="#fff" fill-opacity="0.85" stroke="#d8d8d8" stroke-width="1"/>
<line x1="382.5" y1="353.9" x2="408.8" y2="353.9" stroke="#008000" stroke-width="1.05"/>
<circle cx="395.7" cy="353.9" r="3.4" fill="#008000"/>
<line x1="382.5" y1="373" x2="408.8" y2="373" stroke="#ff0000" stroke-width="1.05" stroke-dasharray="3.7,1.6"/>
<path d="M395.7,369.11 L399.3,375.59 L392.1,375.59 Z" fill="#ff0000"/>
<line x1="382.5" y1="391.4" x2="408.8" y2="391.4" stroke="#ff0000" stroke-width="1.05"/>
<rect x="392.3" y="388" width="6.8" height="6.8" fill="#ff0000"/>
<text x="418.6" y="357.6" font-size="14.5" style="font-style:italic" stroke="#000" stroke-width="0.2">ρ<tspan style="font-style:normal" font-size="9.5" dy="2.2" dx="0.3">b</tspan></text>
<text x="418.8" y="376.2" font-size="13.6" stroke="#000" stroke-width="0.2">v<tspan font-size="9.5" dy="2.5">L</tspan></text>
<text x="418.8" y="396.07" font-size="13.82" stroke="#000" stroke-width="0.2" textLength="11.04" lengthAdjust="spacingAndGlyphs">M</text>
<text x="384.6" y="575.2" font-size="13.82" text-anchor="middle" stroke="#000" stroke-width="0.2" textLength="8.14" lengthAdjust="spacingAndGlyphs">0</text>
<text x="464.25" y="575.2" font-size="13.82" text-anchor="middle" stroke="#000" stroke-width="0.2" textLength="24.43" lengthAdjust="spacingAndGlyphs">100</text>
<text x="543.9" y="575.2" font-size="13.82" text-anchor="middle" stroke="#000" stroke-width="0.2" textLength="24.43" lengthAdjust="spacingAndGlyphs">200</text>
<text x="623.55" y="575.2" font-size="13.82" text-anchor="middle" stroke="#000" stroke-width="0.2" textLength="24.43" lengthAdjust="spacingAndGlyphs">300</text>
<text x="369.4" y="533.97" font-size="13.82" text-anchor="end" stroke="#000" stroke-width="0.2" textLength="8.14" lengthAdjust="spacingAndGlyphs">0</text>
<text x="369.4" y="490.92" font-size="13.82" text-anchor="end" stroke="#000" stroke-width="0.2" textLength="16.29" lengthAdjust="spacingAndGlyphs">10</text>
<text x="369.4" y="447.87" font-size="13.82" text-anchor="end" stroke="#000" stroke-width="0.2" textLength="16.29" lengthAdjust="spacingAndGlyphs">20</text>
<text x="369.4" y="404.82" font-size="13.82" text-anchor="end" stroke="#000" stroke-width="0.2" textLength="16.29" lengthAdjust="spacingAndGlyphs">30</text>
<text x="369.4" y="361.77" font-size="13.82" text-anchor="end" stroke="#000" stroke-width="0.2" textLength="16.29" lengthAdjust="spacingAndGlyphs">40</text>
<text x="519" y="589.4" font-size="13.82" text-anchor="middle" stroke="#000" stroke-width="0.2" textLength="65.82" lengthAdjust="spacingAndGlyphs">Time (hrs)</text>
<text x="347.1" y="449.5" font-size="13.82" text-anchor="middle" stroke="#000" stroke-width="0.2" textLength="65.24" lengthAdjust="spacingAndGlyphs" transform="rotate(-90 347.1 449.5)">% Change</text>
<text x="0" y="634.1" style="font-family:'Liberation Serif',serif" font-size="22.5" textLength="24.1" lengthAdjust="spacingAndGlyphs">(<tspan font-size="19" style="font-weight:bold">e</tspan>)</text>
<defs>
<linearGradient id="bg1" x1="0" y1="0" x2="1" y2="1">
 <stop offset="0" stop-color="#cac7be"/><stop offset="0.5" stop-color="#d4d2cd"/><stop offset="1" stop-color="#e4e4e3"/>
</linearGradient>
<radialGradient id="bg1b" cx="0.85" cy="0.8" r="0.45">
 <stop offset="0" stop-color="#e6e6e6" stop-opacity="0.9"/><stop offset="1" stop-color="#e6e6e6" stop-opacity="0"/>
</radialGradient>
<radialGradient id="bg1c" cx="0.1" cy="0.85" r="0.35">
 <stop offset="0" stop-color="#dedede" stop-opacity="0.8"/><stop offset="1" stop-color="#dedede" stop-opacity="0"/>
</radialGradient>
<linearGradient id="bg2" x1="0" y1="0" x2="1" y2="0">
 <stop offset="0" stop-color="#d4d4d4"/><stop offset="0.2" stop-color="#e6e6e6"/><stop offset="0.7" stop-color="#f0f0f0"/><stop offset="1" stop-color="#eeeeee"/>
</linearGradient>
<linearGradient id="body1" x1="0" y1="0" x2="1" y2="0">
 <stop offset="0" stop-color="#3a3a3a"/><stop offset="0.18" stop-color="#4c4c4c"/><stop offset="0.3" stop-color="#505050"/>
 <stop offset="0.55" stop-color="#484848"/><stop offset="0.8" stop-color="#404040"/><stop offset="1" stop-color="#303030"/>
</linearGradient>
<linearGradient id="body2" x1="0" y1="0" x2="1" y2="0">
 <stop offset="0" stop-color="#333"/><stop offset="0.06" stop-color="#1e1e1e"/><stop offset="0.45" stop-color="#1a1a1a"/><stop offset="0.55" stop-color="#2e2e2e"/><stop offset="0.62" stop-color="#2c2c2c"/><stop offset="0.85" stop-color="#323232"/><stop offset="1" stop-color="#262626"/>
</linearGradient>
<radialGradient id="refl2" cx="0.5" cy="0.5" r="0.5">
 <stop offset="0" stop-color="#6e6658" stop-opacity="1"/><stop offset="0.55" stop-color="#9c9482" stop-opacity="0.75"/><stop offset="1" stop-color="#d8d4cc" stop-opacity="0"/>
</radialGradient>
<linearGradient id="hl1" x1="0" y1="0" x2="0" y2="1">
 <stop offset="0" stop-color="#f0f0f0"/><stop offset="0.7" stop-color="#e0e0e0"/><stop offset="1" stop-color="#b0b0b0"/>
</linearGradient>
<linearGradient id="hl2" x1="0" y1="0" x2="0" y2="1">
 <stop offset="0" stop-color="#5a5448" stop-opacity="0.6"/><stop offset="0.4" stop-color="#b8a98a"/><stop offset="1" stop-color="#a89a80"/>
</linearGradient>
<filter id="blur4" x="-50%" y="-50%" width="200%" height="200%"><feGaussianBlur stdDeviation="5"/></filter>
<filter id="blur1"><feGaussianBlur stdDeviation="0.6"/></filter>
<clipPath id="cp1"><rect x="12.4" y="651.3" width="159" height="193.2"/></clipPath>
<clipPath id="cp2"><rect x="171.4" y="651.3" width="160.6" height="193.2"/></clipPath>
</defs>
<g clip-path="url(#cp1)">
<rect x="12.4" y="651.3" width="159" height="193.2" fill="url(#bg1)"/>
<rect x="12.4" y="651.3" width="159" height="193.2" fill="url(#bg1b)"/>
<rect x="12.4" y="651.3" width="159" height="193.2" fill="url(#bg1c)"/>
<ellipse cx="138" cy="785" rx="16" ry="38" fill="#b8bbc0" opacity="0.4" filter="url(#blur4)"/>
<ellipse cx="100" cy="836" rx="40" ry="8" fill="#a8a8a8" opacity="0.5" filter="url(#blur4)"/>
<path d="M29.5,727 L33,748 L35.4,763.4 L42.4,798.4 Q45,812 49.4,817 Q54,823 58.7,826.4 Q65,831 72.7,832.3 L89,833.4 Q101,831.5 110,826.4 Q117,821 121.8,814.7 Q126,803 127.6,786.7 L126.8,722 Z" fill="url(#body1)"/>
<path d="M56.4,765 L61.2,765 L71.6,832 L67,832 Z" fill="url(#hl1)"/>
<path d="M32,737 L35,737 L38,763 L45,798 L50.5,815 L49,816 L43,799 L36,764 Z" fill="#5c5c5c" opacity="0.6" filter="url(#blur1)"/>
<path d="M68.6,765 L70,765 L71.4,832 L70,832 Z" fill="#222" opacity="0.8"/>
<path d="M124.5,735 L127,735 L127.4,790 L124,812 L122.5,812 L125,790 Z" fill="#5a5a5a" opacity="0.7" filter="url(#blur1)"/>
<ellipse cx="78.1" cy="724.7" rx="48.6" ry="42.2" transform="rotate(-8 78.1 724.7)" fill="#0e0e0e"/>
<path d="M114.3,701 L117.6,707" stroke="#555" stroke-width="1.6" stroke-linecap="round" fill="none"/>
<path d="M121.2,717 l0.6,2.5" stroke="#4a4a4a" stroke-width="1.4" stroke-linecap="round" fill="none"/>
<path d="M102.5,692.5 l0.5,2" stroke="#3a3a3a" stroke-width="1.2" stroke-linecap="round" fill="none"/>
<path d="M108.5,787 l0,6" stroke="#111" stroke-width="1.6"/>
<path d="M44.7,699.5 C49,708 56,722 60,738 C63,752 62.5,770 63,790 C63.5,810 65,825 66.5,836 L69.5,840 L76.5,840 L79.2,836 C79.2,815 79.3,790 79,770 C78.7,752 78,738 74.5,722 C71,709 64,699 56.2,689.5" stroke="#d81818" stroke-width="2" fill="none" stroke-dasharray="5.5,3.5"/>
</g>
<g clip-path="url(#cp2)">
<rect x="171.4" y="651.3" width="160.6" height="193.2" fill="url(#bg2)"/>
<text x="242" y="682" font-size="17" fill="#e6e6e6" style="font-weight:bold" transform="rotate(16 242 682)" textLength="70" lengthAdjust="spacingAndGlyphs">PREN</text>
<ellipse cx="190" cy="800" rx="22" ry="45" fill="#d8d8d8" opacity="0.6" filter="url(#blur4)"/>
<ellipse cx="248" cy="834" rx="54" ry="15" fill="url(#refl2)"/>
<path d="M199.4,714 L201.7,740 L207.7,811 Q209,820 213,824 Q222,830 232.5,831 L256,831 Q268,828 275,821.6 Q284,813 286.9,801.5 L288.5,740 L289.3,712 Z" fill="url(#body2)"/>
<path d="M253.6,752 L256.2,752 L258.6,831 L254.6,831 Z" fill="url(#hl2)"/>
<clipPath id="topII"><ellipse cx="244.2" cy="713.7" rx="44" ry="33.4" transform="rotate(-3 244.2 713.7)"/></clipPath>
<ellipse cx="244.2" cy="713.7" rx="44" ry="33.4" transform="rotate(-3 244.2 713.7)" fill="#2c2c2c" stroke="#161616" stroke-width="1.2"/>
<g clip-path="url(#topII)" stroke-width="1" fill="none"><path d="M230,680 L238,748" stroke="#3a3a3a"/><path d="M246,680 L252,748" stroke="#363636"/><path d="M258,682 L262,748" stroke="#3c3c3c"/><path d="M214,690 L222,748" stroke="#333"/><path d="M268,684 L272,745" stroke="#353535"/><path d="M205,722 L245,690" stroke="#343434"/><path d="M215,740 L265,700" stroke="#333"/><path d="M276,688 L290,715" stroke="#555" stroke-width="2"/></g>
<path d="M281,695 q6,6 6,14" stroke="#4a4a4a" stroke-width="1.5" fill="none"/>
<path d="M263,784 l0,6" stroke="#0c0c0c" stroke-width="1.5"/>
<path d="M221.8,823 C219.8,805 219.8,790 220.5,775 C221.3,762 221.5,752 222.5,745 C224,740 229,739 231.4,740.5 C235,742 238.5,745 239.1,750 C239.5,760 238,775 237.5,790 C236.8,805 234.5,818 232.7,831" stroke="#d81818" stroke-width="2" fill="none" stroke-dasharray="5.5,3.5"/>
</g>
<text x="21" y="667.2" font-size="13.8" stroke="#000" stroke-width="0.3" textLength="11.5" lengthAdjust="spacingAndGlyphs">(I)</text>
<text x="52" y="671.6" font-size="12.4" stroke="#000" stroke-width="0.3" textLength="60.6" lengthAdjust="spacingAndGlyphs">At 84% RH</text>
<text x="181.6" y="666.8" font-size="13.6" stroke="#000" stroke-width="0.3" textLength="15.8" lengthAdjust="spacingAndGlyphs">(II)</text>
<text x="220.6" y="671.8" font-size="12.4" stroke="#000" stroke-width="0.3" textLength="60.7" lengthAdjust="spacingAndGlyphs">At 77% RH</text>
<text x="348.8" y="634.1" style="font-family:'Liberation Serif',serif" font-size="22.5" textLength="23.2" lengthAdjust="spacingAndGlyphs">(<tspan font-size="19" style="font-weight:bold">f</tspan>)</text>
<defs><clipPath id="cf"><rect x="373.4" y="647.2" width="303.6" height="240.8"/></clipPath></defs>
<g clip-path="url(#cf)" fill="none" stroke-width="1.15" stroke-linejoin="round">
<path d="M373.4,682.5 L478,682.5 L478.5,682.61 L479,682.8 L479.5,683.05 L480,683.34 L480.5,683.67 L481,684.01 L481.5,684.35 L482,684.68 L482.5,684.97 L483,685.22 L483.5,685.4 L484,685.5 L484.5,685.43 L485,685.14 L485.5,684.66 L486,684.03 L486.5,683.29 L487,682.48 L487.5,681.63 L488,680.79 L488.5,680 L489,679.04 L489.5,677.78 L490,676.34 L490.5,674.86 L491,673.48 L491.5,672.31 L492,671.51 L492.5,671.19 L493,671.44 L493.5,672.14 L494,673.18 L494.5,674.46 L495,675.88 L495.5,677.35 L496,678.75 L496.5,680 L497,681.26 L497.5,682.68 L498,684.16 L498.5,685.58 L499,686.83 L499.5,687.78 L500,688.32 L500.5,688.41 L501,688.28 L501.5,688.01 L502,687.65 L502.5,687.26 L503,686.89 L503.5,686.58 L504,686.4 L504.5,686.32 L505,686.28 L505.5,686.27 L506,686.27 L506.5,686.27 L507,686.25 L507.5,686.21 L508,686.12 L508.5,685.96 L509,685.64 L509.5,685.14 L510,684.54 L510.5,683.88 L511,683.23 L511.5,682.65 L512,682.2 L512.5,681.93 L513,681.92 L513.5,682.06 L514,682.3 L514.5,682.62 L515,682.98 L515.5,683.39 L516,683.81 L516.5,684.22 L517,684.62 L517.5,684.97 L518,685.31 L518.5,685.66 L519,686.02 L519.5,686.37 L520,686.72 L520.5,687.06 L521,687.38 L521.5,687.68 L522,687.95 L522.5,688.14 L523,688.24 L523.5,688.23 L524,688.12 L524.5,687.91 L525,687.6 L525.5,687.07 L526,686.27 L526.5,685.26 L527,684.12 L527.5,682.91 L528,681.72 L528.5,680.6 L529,679.61 L529.5,678.52 L530,677.37 L530.5,676.23 L531,675.19 L531.5,674.35 L532,673.79 L532.5,673.59 L533,673.68 L533.5,673.95 L534,674.38 L534.5,674.91 L535,675.52 L535.5,676.17 L536,676.81 L536.5,677.4 L537,678.02 L537.5,678.73 L538,679.51 L538.5,680.3 L539,681.08 L539.5,681.8 L540,682.44 L540.5,682.94 L541,683.28 L541.5,683.41 L542,683.48 L542.5,683.53 L543,683.59 L543.5,683.64 L544,683.69 L544.5,683.74 L545,683.78 L545.5,683.82 L546,683.86 L546.5,683.89 L547,683.92 L547.5,683.95 L548,683.98 L548.5,684.01 L549,684.04 L549.5,684.06 L550,684.08 L550.5,684.11 L551,684.13 L551.5,684.15 L552,684.17 L552.5,684.2 L553,684.22 L553.5,684.24 L554,684.26 L554.5,684.29 L555,684.31 L555.5,684.33 L556,684.36 L556.5,684.39 L557,684.41 L557.5,684.44 L558,684.47 L558.5,684.5 L559,684.52 L559.5,684.55 L560,684.58 L560.5,684.6 L561,684.63 L561.5,684.66 L562,684.68 L562.5,684.7 L563,684.73 L563.5,684.75 L564,684.77 L564.5,684.79 L565,684.81 L565.5,684.83 L566,684.84 L566.5,684.86 L567,684.87 L567.5,684.88 L568,684.89 L568.5,684.89 L569,684.9 L569.5,684.9 L570,684.89 L570.5,684.82 L571,684.68 L571.5,684.48 L572,684.23 L572.5,683.92 L573,683.58 L573.5,683.21 L574,682.81 L574.5,682.4 L575,681.97 L575.5,681.55 L576,681.13 L576.5,680.72 L577,680.34 L577.5,679.99 L578,679.67 L578.5,679.4 L579,679.18 L579.5,679.02 L580,678.92 L580.5,678.9 L581,678.97 L581.5,679.12 L582,679.33 L582.5,679.59 L583,679.89 L583.5,680.23 L584,680.58 L584.5,680.93 L585,681.28 L585.5,681.61 L586,681.9 L586.5,682.15 L587,682.34 L587.5,682.46 L588,682.51 L588.5,682.52 L589,682.49 L589.5,682.44 L590,682.37 L590.5,682.27 L591,682.16 L591.5,682.03 L592,681.89 L592.5,681.75 L593,681.59 L593.5,681.44 L594,681.28 L594.5,681.13 L595,680.98 L595.5,680.84 L596,680.71 L596.5,680.59 L597,680.5 L597.5,680.42 L598,680.37 L598.5,680.34 L599,680.34 L599.5,680.38 L600,680.44 L600.5,680.54 L601,680.67 L601.5,680.83 L602,681 L602.5,681.2 L603,681.41 L603.5,681.64 L604,681.88 L604.5,682.12 L605,682.38 L605.5,682.63 L606,682.89 L606.5,683.14 L607,683.39 L607.5,683.63 L608,683.85 L608.5,684.06 L609,684.26 L609.5,684.44 L610,684.59 L610.5,684.72 L611,684.81 L611.5,684.88 L612,684.92 L612.5,684.94 L613,684.94 L613.5,684.92 L614,684.89 L614.5,684.85 L615,684.79 L615.5,684.72 L616,684.65 L616.5,684.56 L617,684.46 L617.5,684.35 L618,684.24 L618.5,684.12 L619,684 L619.5,683.87 L620,683.74 L620.5,683.6 L621,683.47 L621.5,683.33 L622,683.2 L622.5,683.06 L623,682.93 L623.5,682.8 L624,682.68 L624.5,682.56 L625,682.45 L625.5,682.35 L626,682.25 L626.5,682.17 L627,682.09 L627.5,682.03 L628,681.97 L628.5,681.94 L629,681.91 L629.5,681.9 L630,681.91 L630.5,681.94 L631,682 L631.5,682.09 L632,682.2 L632.5,682.33 L633,682.47 L633.5,682.63 L634,682.81 L634.5,682.99 L635,683.19 L635.5,683.39 L636,683.59 L636.5,683.8 L637,684.01 L637.5,684.22 L638,684.42 L638.5,684.62 L639,684.81 L639.5,684.99 L640,685.16 L640.5,685.32 L641,685.45 L641.5,685.57 L642,685.67 L642.5,685.74 L643,685.79 L643.5,685.8 L644,685.72 L644.5,685.56 L645,685.34 L645.5,685.06 L646,684.72 L646.5,684.35 L647,683.94 L647.5,683.51 L648,683.06 L648.5,682.61 L649,682.15 L649.5,681.71 L650,681.28 L650.5,680.88 L651,680.51 L651.5,680.19 L652,679.92 L652.5,679.71 L653,679.57 L653.5,679.5 L654,679.53 L654.5,679.65 L655,679.85 L655.5,680.13 L656,680.47 L656.5,680.88 L657,681.33 L657.5,681.82 L658,682.34 L658.5,682.89 L659,683.45 L659.5,684.02 L660,684.58 L660.5,685.13 L661,685.65 L661.5,686.15 L662,686.61 L662.5,687.02 L663,687.37 L663.5,687.66 L664,687.87 L664.5,688.01 L665,688.1 L665.5,688.16 L666,688.17 L666.5,688.14 L667,688.08 L667.5,687.98 L668,687.85 L668.5,687.69 L669,687.49 L669.5,687.27 L670,687.02 L670.5,686.75 L671,686.46 L671.5,686.15 L672,685.82 L672.5,685.47 L673,685.1 L673.5,684.73 L674,684.34 L674.5,683.95 L675,683.54 L675.5,683.14 L676,682.73 L676.5,682.31 L677,681.9" stroke="#bcbd22"/>
<path d="M373.4,706.3 L479,706.3 L479.5,706.4 L480,706.56 L480.5,706.77 L481,707.03 L481.5,707.31 L482,707.6 L482.5,707.9 L483,708.19 L483.5,708.46 L484,708.69 L484.5,708.88 L485,709 L485.5,709 L486,708.82 L486.5,708.48 L487,708.02 L487.5,707.44 L488,706.79 L488.5,706.06 L489,705.3 L489.5,704.52 L490,703.75 L490.5,703 L491,702.01 L491.5,700.6 L492,698.95 L492.5,697.23 L493,695.6 L493.5,694.24 L494,693.32 L494.5,693 L495,693.34 L495.5,694.21 L496,695.5 L496.5,697.07 L497,698.82 L497.5,700.64 L498,702.41 L498.5,704 L499,705.74 L499.5,707.77 L500,709.7 L500.5,711.17 L501,711.8 L501.5,711.84 L502,711.8 L502.5,711.7 L503,711.54 L503.5,711.33 L504,711.08 L504.5,710.81 L505,710.52 L505.5,710.21 L506,709.91 L506.5,709.62 L507,709.35 L507.5,709.05 L508,708.73 L508.5,708.38 L509,708.01 L509.5,707.63 L510,707.26 L510.5,706.89 L511,706.54 L511.5,706.21 L512,705.91 L512.5,705.66 L513,705.45 L513.5,705.3 L514,705.22 L514.5,705.2 L515,705.3 L515.5,705.5 L516,705.78 L516.5,706.12 L517,706.51 L517.5,706.91 L518,707.3 L518.5,707.67 L519,708 L519.5,708.31 L520,708.66 L520.5,709.02 L521,709.38 L521.5,709.75 L522,710.09 L522.5,710.41 L523,710.69 L523.5,710.92 L524,711.09 L524.5,711.18 L525,711.19 L525.5,710.9 L526,710.28 L526.5,709.41 L527,708.35 L527.5,707.18 L528,705.98 L528.5,704.8 L529,703.73 L529.5,702.83 L530,701.92 L530.5,700.93 L531,699.91 L531.5,698.93 L532,698.02 L532.5,697.26 L533,696.68 L533.5,696.35 L534,696.32 L534.5,696.6 L535,697.13 L535.5,697.86 L536,698.74 L536.5,699.69 L537,700.66 L537.5,701.6 L538,702.44 L538.5,703.13 L539,703.82 L539.5,704.55 L540,705.25 L540.5,705.84 L541,706.25 L541.5,706.41 L542,706.49 L542.5,706.55 L543,706.61 L543.5,706.67 L544,706.73 L544.5,706.78 L545,706.83 L545.5,706.87 L546,706.92 L546.5,706.96 L547,706.99 L547.5,707.03 L548,707.07 L548.5,707.1 L549,707.13 L549.5,707.16 L550,707.19 L550.5,707.22 L551,707.25 L551.5,707.28 L552,707.31 L552.5,707.34 L553,707.38 L553.5,707.41 L554,707.44 L554.5,707.47 L555,707.51 L555.5,707.54 L556,707.58 L556.5,707.61 L557,707.65 L557.5,707.68 L558,707.71 L558.5,707.75 L559,707.78 L559.5,707.81 L560,707.85 L560.5,707.88 L561,707.91 L561.5,707.94 L562,707.96 L562.5,707.99 L563,708.02 L563.5,708.04 L564,708.07 L564.5,708.09 L565,708.11 L565.5,708.13 L566,708.14 L566.5,708.16 L567,708.17 L567.5,708.18 L568,708.19 L568.5,708.2 L569,708.2 L569.5,708.2 L570,708.2 L570.5,708.15 L571,708.05 L571.5,707.91 L572,707.73 L572.5,707.52 L573,707.28 L573.5,707.01 L574,706.72 L574.5,706.42 L575,706.1 L575.5,705.78 L576,705.45 L576.5,705.12 L577,704.8 L577.5,704.49 L578,704.2 L578.5,703.92 L579,703.67 L579.5,703.44 L580,703.25 L580.5,703.1 L581,702.98 L581.5,702.92 L582,702.9 L582.5,702.96 L583,703.07 L583.5,703.25 L584,703.46 L584.5,703.71 L585,703.98 L585.5,704.27 L586,704.56 L586.5,704.84 L587,705.1 L587.5,705.34 L588,705.54 L588.5,705.69 L589,705.78 L589.5,705.8 L590,705.79 L590.5,705.75 L591,705.68 L591.5,705.58 L592,705.47 L592.5,705.34 L593,705.2 L593.5,705.05 L594,704.9 L594.5,704.74 L595,704.58 L595.5,704.43 L596,704.29 L596.5,704.15 L597,704.04 L597.5,703.94 L598,703.86 L598.5,703.8 L599,703.78 L599.5,703.79 L600,703.83 L600.5,703.89 L601,703.98 L601.5,704.08 L602,704.2 L602.5,704.34 L603,704.49 L603.5,704.66 L604,704.84 L604.5,705.02 L605,705.22 L605.5,705.42 L606,705.62 L606.5,705.83 L607,706.04 L607.5,706.25 L608,706.46 L608.5,706.66 L609,706.86 L609.5,707.05 L610,707.23 L610.5,707.4 L611,707.56 L611.5,707.7 L612,707.83 L612.5,707.95 L613,708.04 L613.5,708.12 L614,708.17 L614.5,708.2 L615,708.2 L615.5,708.19 L616,708.15 L616.5,708.11 L617,708.04 L617.5,707.97 L618,707.88 L618.5,707.78 L619,707.67 L619.5,707.55 L620,707.42 L620.5,707.29 L621,707.15 L621.5,707.01 L622,706.87 L622.5,706.72 L623,706.58 L623.5,706.43 L624,706.29 L624.5,706.15 L625,706.02 L625.5,705.89 L626,705.77 L626.5,705.65 L627,705.55 L627.5,705.45 L628,705.37 L628.5,705.3 L629,705.25 L629.5,705.21 L630,705.19 L630.5,705.19 L631,705.21 L631.5,705.25 L632,705.31 L632.5,705.38 L633,705.46 L633.5,705.56 L634,705.68 L634.5,705.8 L635,705.93 L635.5,706.07 L636,706.21 L636.5,706.36 L637,706.51 L637.5,706.67 L638,706.82 L638.5,706.97 L639,707.12 L639.5,707.27 L640,707.41 L640.5,707.54 L641,707.67 L641.5,707.79 L642,707.89 L642.5,707.98 L643,708.06 L643.5,708.12 L644,708.17 L644.5,708.2 L645,708.18 L645.5,708.09 L646,707.93 L646.5,707.7 L647,707.43 L647.5,707.11 L648,706.75 L648.5,706.38 L649,705.99 L649.5,705.6 L650,705.22 L650.5,704.85 L651,704.5 L651.5,704.19 L652,703.93 L652.5,703.72 L653,703.58 L653.5,703.5 L654,703.51 L654.5,703.6 L655,703.75 L655.5,703.97 L656,704.24 L656.5,704.56 L657,704.92 L657.5,705.32 L658,705.74 L658.5,706.2 L659,706.66 L659.5,707.14 L660,707.62 L660.5,708.1 L661,708.57 L661.5,709.02 L662,709.45 L662.5,709.86 L663,710.22 L663.5,710.55 L664,710.82 L664.5,711.04 L665,711.2 L665.5,711.3 L666,711.36 L666.5,711.37 L667,711.33 L667.5,711.26 L668,711.15 L668.5,711 L669,710.82 L669.5,710.6 L670,710.36 L670.5,710.09 L671,709.8 L671.5,709.49 L672,709.15 L672.5,708.8 L673,708.43 L673.5,708.05 L674,707.66 L674.5,707.25 L675,706.85 L675.5,706.44 L676,706.02 L676.5,705.61 L677,705.2" stroke="#7f7f7f"/>
<path d="M373.4,729.8 L481,729.8 L481.5,729.92 L482,730.12 L482.5,730.38 L483,730.69 L483.5,731.02 L484,731.35 L484.5,731.65 L485,731.91 L485.5,732.1 L486,732.2 L486.5,732.15 L487,731.92 L487.5,731.54 L488,731.03 L488.5,730.41 L489,729.72 L489.5,728.98 L490,728.21 L490.5,727.44 L491,726.7 L491.5,726 L492,725.19 L492.5,724.14 L493,722.93 L493.5,721.62 L494,720.31 L494.5,719.07 L495,717.96 L495.5,717.08 L496,716.5 L496.5,716.29 L497,716.62 L497.5,717.63 L498,719.15 L498.5,721.02 L499,723.06 L499.5,725.11 L500,727.01 L500.5,728.66 L501,730.59 L501.5,732.5 L502,733.89 L502.5,734.3 L503,734.26 L503.5,734.19 L504,734.09 L504.5,733.97 L505,733.84 L505.5,733.71 L506,733.59 L506.5,733.48 L507,733.38 L507.5,733.29 L508,733.19 L508.5,733.1 L509,733 L509.5,732.89 L510,732.78 L510.5,732.61 L511,732.39 L511.5,732.13 L512,731.83 L512.5,731.5 L513,731.16 L513.5,730.82 L514,730.48 L514.5,730.16 L515,729.87 L515.5,729.62 L516,729.42 L516.5,729.27 L517,729.2 L517.5,729.21 L518,729.35 L518.5,729.63 L519,730.01 L519.5,730.47 L520,730.99 L520.5,731.52 L521,732.05 L521.5,732.56 L522,733 L522.5,733.44 L523,733.93 L523.5,734.44 L524,734.94 L524.5,735.41 L525,735.82 L525.5,736.14 L526,736.34 L526.5,736.39 L527,736.08 L527.5,735.37 L528,734.35 L528.5,733.12 L529,731.76 L529.5,730.37 L530,729.02 L530.5,727.81 L531,726.82 L531.5,725.85 L532,724.82 L532.5,723.79 L533,722.8 L533.5,721.9 L534,721.14 L534.5,720.57 L535,720.25 L535.5,720.23 L536,720.69 L536.5,721.6 L537,722.79 L537.5,724.08 L538,725.33 L538.5,726.36 L539,727 L539.5,727.39 L540,727.76 L540.5,728.1 L541,728.41 L541.5,728.68 L542,728.91 L542.5,729.09 L543,729.22 L543.5,729.34 L544,729.47 L544.5,729.6 L545,729.73 L545.5,729.87 L546,730 L546.5,730.14 L547,730.28 L547.5,730.41 L548,730.54 L548.5,730.66 L549,730.78 L549.5,730.89 L550,731 L550.5,731.09 L551,731.17 L551.5,731.24 L552,731.3 L552.5,731.34 L553,731.36 L553.5,731.37 L554,731.36 L554.5,731.33 L555,731.28 L555.5,731.22 L556,731.15 L556.5,731.08 L557,731 L557.5,730.92 L558,730.83 L558.5,730.73 L559,730.64 L559.5,730.53 L560,730.43 L560.5,730.32 L561,730.21 L561.5,730.1 L562,729.98 L562.5,729.87 L563,729.75 L563.5,729.63 L564,729.52 L564.5,729.4 L565,729.29 L565.5,729.17 L566,729.06 L566.5,728.95 L567,728.84 L567.5,728.73 L568,728.63 L568.5,728.53 L569,728.44 L569.5,728.35 L570,728.27 L570.5,728.18 L571,728.1 L571.5,728.02 L572,727.94 L572.5,727.86 L573,727.78 L573.5,727.7 L574,727.62 L574.5,727.55 L575,727.48 L575.5,727.41 L576,727.34 L576.5,727.28 L577,727.22 L577.5,727.16 L578,727.11 L578.5,727.05 L579,727.01 L579.5,726.96 L580,726.92 L580.5,726.89 L581,726.86 L581.5,726.83 L582,726.81 L582.5,726.8 L583,726.79 L583.5,726.78 L584,726.79 L584.5,726.79 L585,726.81 L585.5,726.93 L586,727.13 L586.5,727.4 L587,727.72 L587.5,728.07 L588,728.44 L588.5,728.8 L589,729.13 L589.5,729.41 L590,729.63 L590.5,729.77 L591,729.8 L591.5,729.77 L592,729.68 L592.5,729.54 L593,729.36 L593.5,729.15 L594,728.92 L594.5,728.66 L595,728.4 L595.5,728.13 L596,727.87 L596.5,727.62 L597,727.39 L597.5,727.19 L598,727.02 L598.5,726.89 L599,726.81 L599.5,726.79 L600,726.83 L600.5,726.89 L601,726.97 L601.5,727.08 L602,727.21 L602.5,727.35 L603,727.51 L603.5,727.69 L604,727.87 L604.5,728.07 L605,728.27 L605.5,728.49 L606,728.7 L606.5,728.92 L607,729.14 L607.5,729.36 L608,729.58 L608.5,729.79 L609,729.99 L609.5,730.19 L610,730.38 L610.5,730.55 L611,730.72 L611.5,730.86 L612,730.99 L612.5,731.1 L613,731.19 L613.5,731.25 L614,731.29 L614.5,731.3 L615,731.29 L615.5,731.26 L616,731.23 L616.5,731.18 L617,731.13 L617.5,731.07 L618,731 L618.5,730.92 L619,730.84 L619.5,730.75 L620,730.66 L620.5,730.57 L621,730.47 L621.5,730.37 L622,730.27 L622.5,730.17 L623,730.07 L623.5,729.97 L624,729.88 L624.5,729.79 L625,729.7 L625.5,729.61 L626,729.54 L626.5,729.46 L627,729.4 L627.5,729.34 L628,729.29 L628.5,729.25 L629,729.22 L629.5,729.2 L630,729.2 L630.5,729.19 L631,729.2 L631.5,729.2 L632,729.21 L632.5,729.23 L633,729.24 L633.5,729.26 L634,729.29 L634.5,729.31 L635,729.34 L635.5,729.37 L636,729.4 L636.5,729.43 L637,729.46 L637.5,729.49 L638,729.53 L638.5,729.56 L639,729.59 L639.5,729.62 L640,729.65 L640.5,729.68 L641,729.7 L641.5,729.73 L642,729.75 L642.5,729.76 L643,729.78 L643.5,729.79 L644,729.8 L644.5,729.8 L645,729.79 L645.5,729.77 L646,729.73 L646.5,729.67 L647,729.6 L647.5,729.53 L648,729.44 L648.5,729.34 L649,729.24 L649.5,729.14 L650,729.03 L650.5,728.93 L651,728.82 L651.5,728.73 L652,728.63 L652.5,728.55 L653,728.47 L653.5,728.41 L654,728.36 L654.5,728.32 L655,728.3 L655.5,728.31 L656,728.38 L656.5,728.5 L657,728.67 L657.5,728.87 L658,729.11 L658.5,729.38 L659,729.68 L659.5,730 L660,730.32 L660.5,730.66 L661,731 L661.5,731.34 L662,731.68 L662.5,732 L663,732.3 L663.5,732.58 L664,732.84 L664.5,733.06 L665,733.24 L665.5,733.38 L666,733.47 L666.5,733.53 L667,733.56 L667.5,733.55 L668,733.52 L668.5,733.45 L669,733.36 L669.5,733.25 L670,733.11 L670.5,732.95 L671,732.78 L671.5,732.58 L672,732.37 L672.5,732.15 L673,731.91 L673.5,731.67 L674,731.41 L674.5,731.15 L675,730.88 L675.5,730.61 L676,730.34 L676.5,730.07 L677,729.8" stroke="#e377c2"/>
<path d="M373.4,753.6 L484,753.6 L484.5,753.76 L485,753.96 L485.5,754.19 L486,754.45 L486.5,754.72 L487,754.99 L487.5,755.25 L488,755.5 L488.5,755.77 L489,756.07 L489.5,756.4 L490,756.71 L490.5,757.01 L491,757.25 L491.5,757.42 L492,757.5 L492.5,757.16 L493,756.22 L493.5,754.82 L494,753.14 L494.5,751.33 L495,749.57 L495.5,748 L496,746.38 L496.5,744.52 L497,742.65 L497.5,741.04 L498,739.92 L498.5,739.6 L499,740.51 L499.5,742.44 L500,745.01 L500.5,747.88 L501,750.69 L501.5,753.08 L502,754.7 L502.5,755.22 L503,755.29 L503.5,755.33 L504,755.35 L504.5,755.37 L505,755.38 L505.5,755.41 L506,755.45 L506.5,755.52 L507,755.6 L507.5,755.7 L508,755.8 L508.5,755.89 L509,755.98 L509.5,756.05 L510,756.11 L510.5,756.08 L511,755.95 L511.5,755.73 L512,755.44 L512.5,755.08 L513,754.69 L513.5,754.26 L514,753.82 L514.5,753.37 L515,752.93 L515.5,752.51 L516,752.14 L516.5,751.82 L517,751.56 L517.5,751.38 L518,751.3 L518.5,751.33 L519,751.57 L519.5,751.98 L520,752.54 L520.5,753.19 L521,753.91 L521.5,754.64 L522,755.35 L522.5,756 L523,756.68 L523.5,757.5 L524,758.39 L524.5,759.31 L525,760.22 L525.5,761.05 L526,761.76 L526.5,762.31 L527,762.63 L527.5,762.66 L528,762.13 L528.5,761.11 L529,759.72 L529.5,758.1 L530,756.39 L530.5,754.71 L531,753.21 L531.5,752 L532,750.93 L532.5,749.78 L533,748.63 L533.5,747.55 L534,746.62 L534.5,745.9 L535,745.48 L535.5,745.41 L536,745.51 L536.5,745.65 L537,745.82 L537.5,746.03 L538,746.27 L538.5,746.53 L539,746.81 L539.5,747.11 L540,747.41 L540.5,747.73 L541,748.05 L541.5,748.36 L542,748.67 L542.5,748.97 L543,749.26 L543.5,749.55 L544,749.86 L544.5,750.19 L545,750.52 L545.5,750.87 L546,751.23 L546.5,751.59 L547,751.95 L547.5,752.32 L548,752.68 L548.5,753.03 L549,753.38 L549.5,753.72 L550,754.05 L550.5,754.36 L551,754.66 L551.5,754.94 L552,755.19 L552.5,755.42 L553,755.63 L553.5,755.8 L554,755.94 L554.5,756.05 L555,756.12 L555.5,756.14 L556,756.1 L556.5,756.02 L557,755.89 L557.5,755.72 L558,755.52 L558.5,755.29 L559,755.04 L559.5,754.76 L560,754.48 L560.5,754.18 L561,753.87 L561.5,753.57 L562,753.27 L562.5,752.98 L563,752.71 L563.5,752.46 L564,752.22 L564.5,752.02 L565,751.85 L565.5,751.72 L566,751.64 L566.5,751.6 L567,751.61 L567.5,751.67 L568,751.77 L568.5,751.91 L569,752.07 L569.5,752.26 L570,752.46 L570.5,752.68 L571,752.9 L571.5,753.13 L572,753.35 L572.5,753.56 L573,753.75 L573.5,753.92 L574,754.07 L574.5,754.19 L575,754.27 L575.5,754.3 L576,754.29 L576.5,754.23 L577,754.13 L577.5,754 L578,753.83 L578.5,753.64 L579,753.43 L579.5,753.2 L580,752.95 L580.5,752.7 L581,752.45 L581.5,752.19 L582,751.94 L582.5,751.7 L583,751.48 L583.5,751.28 L584,751.09 L584.5,750.94 L585,750.82 L585.5,750.74 L586,750.7 L586.5,750.71 L587,750.74 L587.5,750.81 L588,750.89 L588.5,751 L589,751.13 L589.5,751.27 L590,751.43 L590.5,751.6 L591,751.78 L591.5,751.97 L592,752.17 L592.5,752.37 L593,752.57 L593.5,752.77 L594,752.97 L594.5,753.16 L595,753.34 L595.5,753.52 L596,753.68 L596.5,753.83 L597,753.96 L597.5,754.08 L598,754.17 L598.5,754.24 L599,754.28 L599.5,754.3 L600,754.29 L600.5,754.28 L601,754.25 L601.5,754.22 L602,754.19 L602.5,754.15 L603,754.1 L603.5,754.05 L604,754 L604.5,753.95 L605,753.89 L605.5,753.83 L606,753.77 L606.5,753.71 L607,753.65 L607.5,753.59 L608,753.53 L608.5,753.47 L609,753.42 L609.5,753.36 L610,753.31 L610.5,753.27 L611,753.23 L611.5,753.19 L612,753.16 L612.5,753.13 L613,753.11 L613.5,753.1 L614,753.09 L614.5,753.1 L615,753.11 L615.5,753.12 L616,753.14 L616.5,753.16 L617,753.18 L617.5,753.2 L618,753.23 L618.5,753.25 L619,753.28 L619.5,753.31 L620,753.34 L620.5,753.37 L621,753.4 L621.5,753.42 L622,753.45 L622.5,753.48 L623,753.51 L623.5,753.54 L624,753.56 L624.5,753.59 L625,753.61 L625.5,753.63 L626,753.65 L626.5,753.67 L627,753.68 L627.5,753.69 L628,753.7 L628.5,753.7 L629,753.71 L629.5,753.7 L630,753.7 L630.5,753.69 L631,753.68 L631.5,753.67 L632,753.65 L632.5,753.64 L633,753.62 L633.5,753.61 L634,753.59 L634.5,753.57 L635,753.55 L635.5,753.53 L636,753.51 L636.5,753.48 L637,753.46 L637.5,753.44 L638,753.41 L638.5,753.39 L639,753.37 L639.5,753.34 L640,753.32 L640.5,753.29 L641,753.27 L641.5,753.24 L642,753.22 L642.5,753.2 L643,753.17 L643.5,753.15 L644,753.13 L644.5,753.1 L645,753.08 L645.5,753.06 L646,753.03 L646.5,753 L647,752.97 L647.5,752.94 L648,752.91 L648.5,752.88 L649,752.84 L649.5,752.81 L650,752.77 L650.5,752.73 L651,752.7 L651.5,752.66 L652,752.62 L652.5,752.59 L653,752.55 L653.5,752.51 L654,752.48 L654.5,752.45 L655,752.41 L655.5,752.38 L656,752.35 L656.5,752.32 L657,752.3 L657.5,752.27 L658,752.25 L658.5,752.23 L659,752.22 L659.5,752.2 L660,752.2 L660.5,752.24 L661,752.32 L661.5,752.43 L662,752.57 L662.5,752.74 L663,752.93 L663.5,753.14 L664,753.36 L664.5,753.61 L665,753.86 L665.5,754.12 L666,754.38 L666.5,754.65 L667,754.91 L667.5,755.17 L668,755.42 L668.5,755.66 L669,755.89 L669.5,756.1 L670,756.28 L670.5,756.44 L671,756.58 L671.5,756.68 L672,756.74 L672.5,756.72 L673,756.63 L673.5,756.48 L674,756.29 L674.5,756.05 L675,755.79 L675.5,755.5 L676,755.2 L676.5,754.9 L677,754.6" stroke="#8c564b"/>
<path d="M373.4,776.5 L488,776.5 L488.5,776.59 L489,776.73 L489.5,776.9 L490,777.1 L490.5,777.3 L491,777.5 L491.5,777.78 L492,778.19 L492.5,778.68 L493,779.2 L493.5,779.69 L494,780.09 L494.5,780.35 L495,780.4 L495.5,779.99 L496,779.02 L496.5,777.64 L497,776.04 L497.5,774.37 L498,772.81 L498.5,771.47 L499,769.98 L499.5,768.41 L500,766.98 L500.5,765.9 L501,765.4 L501.5,765.55 L502,766.19 L502.5,767.19 L503,768.43 L503.5,769.77 L504,771.08 L504.5,772.24 L505,773.1 L505.5,773.56 L506,773.86 L506.5,774.15 L507,774.44 L507.5,774.72 L508,774.99 L508.5,775.24 L509,775.48 L509.5,775.69 L510,775.89 L510.5,776.07 L511,776.21 L511.5,776.33 L512,776.42 L512.5,776.48 L513,776.5 L513.5,776.46 L514,776.36 L514.5,776.22 L515,776.05 L515.5,775.85 L516,775.65 L516.5,775.45 L517,775.27 L517.5,775.13 L518,775.03 L518.5,775.01 L519,775.22 L519.5,775.65 L520,776.27 L520.5,777.03 L521,777.88 L521.5,778.78 L522,779.7 L522.5,781.29 L523,783.52 L523.5,785.95 L524,788.12 L524.5,789.61 L525,789.98 L525.5,789.65 L526,788.97 L526.5,788.01 L527,786.82 L527.5,785.46 L528,784 L528.5,782.5 L529,781 L529.5,779.58 L530,778.29 L530.5,777.2 L531,776.35 L531.5,775.55 L532,774.76 L532.5,774.01 L533,773.35 L533.5,772.85 L534,772.56 L534.5,772.34 L535,772.14 L535.5,771.96 L536,771.81 L536.5,771.67 L537,771.56 L537.5,771.48 L538,771.43 L538.5,771.4 L539,771.41 L539.5,771.46 L540,771.55 L540.5,771.67 L541,771.84 L541.5,772.05 L542,772.33 L542.5,772.68 L543,773.08 L543.5,773.53 L544,773.99 L544.5,774.46 L545,774.93 L545.5,775.37 L546,775.76 L546.5,776.11 L547,776.38 L547.5,776.57 L548,776.73 L548.5,776.87 L549,776.99 L549.5,777.1 L550,777.19 L550.5,777.26 L551,777.32 L551.5,777.36 L552,777.38 L552.5,777.39 L553,777.38 L553.5,777.35 L554,777.31 L554.5,777.25 L555,777.18 L555.5,777.09 L556,776.99 L556.5,776.87 L557,776.74 L557.5,776.6 L558,776.42 L558.5,776.14 L559,775.77 L559.5,775.33 L560,774.87 L560.5,774.43 L561,774.03 L561.5,773.72 L562,773.54 L562.5,773.5 L563,773.56 L563.5,773.69 L564,773.88 L564.5,774.11 L565,774.38 L565.5,774.67 L566,774.98 L566.5,775.28 L567,775.58 L567.5,775.85 L568,776.09 L568.5,776.28 L569,776.42 L569.5,776.49 L570,776.49 L570.5,776.47 L571,776.44 L571.5,776.4 L572,776.35 L572.5,776.3 L573,776.24 L573.5,776.17 L574,776.1 L574.5,776.03 L575,775.95 L575.5,775.88 L576,775.8 L576.5,775.72 L577,775.64 L577.5,775.56 L578,775.48 L578.5,775.41 L579,775.34 L579.5,775.27 L580,775.21 L580.5,775.15 L581,775.1 L581.5,775.06 L582,775.02 L582.5,774.99 L583,774.97 L583.5,774.97 L584,774.97 L584.5,774.99 L585,775.01 L585.5,775.05 L586,775.08 L586.5,775.13 L587,775.17 L587.5,775.22 L588,775.28 L588.5,775.34 L589,775.39 L589.5,775.46 L590,775.52 L590.5,775.58 L591,775.65 L591.5,775.72 L592,775.78 L592.5,775.85 L593,775.91 L593.5,775.98 L594,776.04 L594.5,776.1 L595,776.16 L595.5,776.21 L596,776.26 L596.5,776.31 L597,776.35 L597.5,776.39 L598,776.43 L598.5,776.46 L599,776.48 L599.5,776.5 L600,776.51 L600.5,776.51 L601,776.5 L601.5,776.49 L602,776.47 L602.5,776.45 L603,776.42 L603.5,776.39 L604,776.35 L604.5,776.31 L605,776.27 L605.5,776.22 L606,776.18 L606.5,776.13 L607,776.08 L607.5,776.03 L608,775.98 L608.5,775.93 L609,775.88 L609.5,775.84 L610,775.79 L610.5,775.75 L611,775.72 L611.5,775.68 L612,775.65 L612.5,775.63 L613,775.61 L613.5,775.6 L614,775.6 L614.5,775.6 L615,775.61 L615.5,775.63 L616,775.66 L616.5,775.69 L617,775.74 L617.5,775.79 L618,775.85 L618.5,775.92 L619,775.99 L619.5,776.06 L620,776.14 L620.5,776.23 L621,776.31 L621.5,776.4 L622,776.48 L622.5,776.57 L623,776.66 L623.5,776.74 L624,776.82 L624.5,776.9 L625,776.98 L625.5,777.05 L626,777.12 L626.5,777.18 L627,777.24 L627.5,777.29 L628,777.33 L628.5,777.36 L629,777.38 L629.5,777.4 L630,777.4 L630.5,777.39 L631,777.37 L631.5,777.33 L632,777.29 L632.5,777.23 L633,777.17 L633.5,777.1 L634,777.02 L634.5,776.94 L635,776.85 L635.5,776.76 L636,776.67 L636.5,776.57 L637,776.48 L637.5,776.38 L638,776.29 L638.5,776.2 L639,776.11 L639.5,776.02 L640,775.94 L640.5,775.87 L641,775.8 L641.5,775.74 L642,775.69 L642.5,775.65 L643,775.61 L643.5,775.6 L644,775.59 L644.5,775.6 L645,775.62 L645.5,775.64 L646,775.67 L646.5,775.7 L647,775.74 L647.5,775.79 L648,775.83 L648.5,775.88 L649,775.94 L649.5,775.99 L650,776.05 L650.5,776.12 L651,776.18 L651.5,776.25 L652,776.32 L652.5,776.39 L653,776.46 L653.5,776.53 L654,776.61 L654.5,776.68 L655,776.75 L655.5,776.83 L656,776.9 L656.5,776.98 L657,777.05 L657.5,777.12 L658,777.19 L658.5,777.26 L659,777.32 L659.5,777.39 L660,777.45 L660.5,777.51 L661,777.58 L661.5,777.65 L662,777.72 L662.5,777.79 L663,777.86 L663.5,777.93 L664,778 L664.5,778.07 L665,778.15 L665.5,778.22 L666,778.29 L666.5,778.36 L667,778.44 L667.5,778.51 L668,778.58 L668.5,778.65 L669,778.72 L669.5,778.79 L670,778.85 L670.5,778.92 L671,778.98 L671.5,779.04 L672,779.1 L672.5,779.16 L673,779.22 L673.5,779.27 L674,779.32 L674.5,779.37 L675,779.42 L675.5,779.46 L676,779.5 L676.5,779.52 L677,779.5" stroke="#9467bd"/>
<path d="M373.4,799.8 L492,799.8 L492.5,799.84 L493,799.91 L493.5,800 L494,800.12 L494.5,800.25 L495,800.39 L495.5,800.54 L496,800.7 L496.5,800.85 L497,801 L497.5,801.27 L498,801.75 L498.5,802.36 L499,803.04 L499.5,803.7 L500,804.28 L500.5,804.7 L501,804.9 L501.5,804.65 L502,803.85 L502.5,802.6 L503,801.01 L503.5,799.18 L504,797.21 L504.5,795.21 L505,793.28 L505.5,791.52 L506,790.04 L506.5,788.94 L507,788.31 L507.5,787.98 L508,787.82 L508.5,787.82 L509,787.96 L509.5,788.24 L510,788.64 L510.5,789.16 L511,789.79 L511.5,790.5 L512,791.3 L512.5,792.16 L513,793.09 L513.5,794.18 L514,795.44 L514.5,796.84 L515,798.37 L515.5,799.98 L516,801.66 L516.5,803.36 L517,805.06 L517.5,806.75 L518,808.86 L518.5,811.35 L519,813.89 L519.5,816.14 L520,817.77 L520.5,818.43 L521,817.7 L521.5,815.73 L522,812.87 L522.5,809.5 L523,805.97 L523.5,802.64 L524,799.86 L524.5,797.99 L525,797.37 L525.5,797.27 L526,797.25 L526.5,797.31 L527,797.43 L527.5,797.62 L528,797.88 L528.5,798.19 L529,798.57 L529.5,798.99 L530,799.52 L530.5,800.13 L531,800.79 L531.5,801.46 L532,802.09 L532.5,802.64 L533,803.07 L533.5,803.34 L534,803.4 L534.5,803.36 L535,803.28 L535.5,803.17 L536,803.04 L536.5,802.9 L537,802.74 L537.5,802.57 L538,802.41 L538.5,802.25 L539,802.11 L539.5,801.98 L540,801.88 L540.5,801.79 L541,801.7 L541.5,801.62 L542,801.54 L542.5,801.46 L543,801.38 L543.5,801.31 L544,801.23 L544.5,801.15 L545,801.08 L545.5,801 L546,800.92 L546.5,800.83 L547,800.75 L547.5,800.66 L548,800.56 L548.5,800.46 L549,800.36 L549.5,800.23 L550,800.07 L550.5,799.9 L551,799.71 L551.5,799.5 L552,799.28 L552.5,799.04 L553,798.8 L553.5,798.56 L554,798.31 L554.5,798.06 L555,797.81 L555.5,797.56 L556,797.33 L556.5,797.1 L557,796.88 L557.5,796.68 L558,796.5 L558.5,796.33 L559,796.19 L559.5,796.07 L560,795.98 L560.5,795.92 L561,795.9 L561.5,795.96 L562,796.1 L562.5,796.31 L563,796.58 L563.5,796.91 L564,797.28 L564.5,797.68 L565,798.11 L565.5,798.54 L566,798.98 L566.5,799.41 L567,799.82 L567.5,800.2 L568,800.54 L568.5,800.84 L569,801.07 L569.5,801.24 L570,801.33 L570.5,801.38 L571,801.41 L571.5,801.41 L572,801.39 L572.5,801.35 L573,801.29 L573.5,801.21 L574,801.12 L574.5,801.02 L575,800.91 L575.5,800.8 L576,800.68 L576.5,800.55 L577,800.43 L577.5,800.31 L578,800.19 L578.5,800.08 L579,799.98 L579.5,799.89 L580,799.82 L580.5,799.75 L581,799.71 L581.5,799.69 L582,799.68 L582.5,799.71 L583,799.76 L583.5,799.84 L584,799.96 L584.5,800.13 L585,800.33 L585.5,800.56 L586,800.82 L586.5,801.09 L587,801.38 L587.5,801.67 L588,801.95 L588.5,802.23 L589,802.49 L589.5,802.73 L590,802.95 L590.5,803.13 L591,803.27 L591.5,803.36 L592,803.4 L592.5,803.38 L593,803.32 L593.5,803.21 L594,803.06 L594.5,802.88 L595,802.66 L595.5,802.42 L596,802.17 L596.5,801.89 L597,801.6 L597.5,801.31 L598,801.01 L598.5,800.71 L599,800.42 L599.5,800.14 L600,799.88 L600.5,799.63 L601,799.41 L601.5,799.22 L602,799.06 L602.5,798.94 L603,798.85 L603.5,798.77 L604,798.69 L604.5,798.62 L605,798.55 L605.5,798.49 L606,798.43 L606.5,798.37 L607,798.32 L607.5,798.28 L608,798.24 L608.5,798.2 L609,798.17 L609.5,798.15 L610,798.13 L610.5,798.12 L611,798.12 L611.5,798.12 L612,798.13 L612.5,798.14 L613,798.17 L613.5,798.2 L614,798.23 L614.5,798.28 L615,798.33 L615.5,798.4 L616,798.49 L616.5,798.58 L617,798.69 L617.5,798.81 L618,798.93 L618.5,799.07 L619,799.21 L619.5,799.36 L620,799.51 L620.5,799.67 L621,799.83 L621.5,799.99 L622,800.15 L622.5,800.31 L623,800.47 L623.5,800.62 L624,800.78 L624.5,800.92 L625,801.07 L625.5,801.2 L626,801.33 L626.5,801.44 L627,801.55 L627.5,801.65 L628,801.73 L628.5,801.8 L629,801.85 L629.5,801.89 L630,801.91 L630.5,801.9 L631,801.87 L631.5,801.81 L632,801.74 L632.5,801.64 L633,801.52 L633.5,801.39 L634,801.24 L634.5,801.07 L635,800.9 L635.5,800.71 L636,800.52 L636.5,800.32 L637,800.11 L637.5,799.9 L638,799.69 L638.5,799.48 L639,799.26 L639.5,799.06 L640,798.85 L640.5,798.66 L641,798.47 L641.5,798.29 L642,798.12 L642.5,797.97 L643,797.83 L643.5,797.71 L644,797.6 L644.5,797.52 L645,797.45 L645.5,797.41 L646,797.4 L646.5,797.41 L647,797.46 L647.5,797.53 L648,797.64 L648.5,797.76 L649,797.91 L649.5,798.08 L650,798.26 L650.5,798.46 L651,798.68 L651.5,798.9 L652,799.13 L652.5,799.37 L653,799.61 L653.5,799.85 L654,800.08 L654.5,800.32 L655,800.54 L655.5,800.76 L656,800.97 L656.5,801.16 L657,801.34 L657.5,801.5 L658,801.63 L658.5,801.75 L659,801.83 L659.5,801.89 L660,801.92 L660.5,801.91 L661,801.87 L661.5,801.79 L662,801.7 L662.5,801.58 L663,801.44 L663.5,801.28 L664,801.12 L664.5,800.95 L665,800.77 L665.5,800.59 L666,800.41 L666.5,800.24 L667,800.08 L667.5,799.93 L668,799.8 L668.5,799.68 L669,799.59 L669.5,799.53 L670,799.5 L670.5,799.51 L671,799.57 L671.5,799.67 L672,799.82 L672.5,800 L673,800.21 L673.5,800.44 L674,800.7 L674.5,800.98 L675,801.28 L675.5,801.58 L676,801.89 L676.5,802.19 L677,802.5" stroke="#d62728"/>
<path d="M373.4,823.5 L495,823.5 L495.5,823.5 L496,823.5 L496.5,823.5 L497,823.5 L497.5,823.5 L498,823.5 L498.5,823.49 L499,823.47 L499.5,823.43 L500,823.38 L500.5,823.33 L501,823.26 L501.5,823.2 L502,823.13 L502.5,823.07 L503,823 L503.5,822.95 L504,822.9 L504.5,822.92 L505,823.04 L505.5,823.23 L506,823.48 L506.5,823.74 L507,823.99 L507.5,824.2 L508,824.35 L508.5,824.38 L509,823.66 L509.5,822.19 L510,820.34 L510.5,818.47 L511,816.98 L511.5,816.22 L512,816.3 L512.5,817.04 L513,818.27 L513.5,819.83 L514,821.53 L514.5,823.27 L515,826.02 L515.5,829.76 L516,833.76 L516.5,837.3 L517,839.65 L517.5,840.13 L518,839.23 L518.5,837.51 L519,835.16 L519.5,832.36 L520,829.29 L520.5,826.14 L521,823.08 L521.5,820.3 L522,817.96 L522.5,815.53 L523,812.87 L523.5,810.22 L524,807.81 L524.5,805.87 L525,804.62 L525.5,804.3 L526,804.97 L526.5,806.41 L527,808.42 L527.5,810.81 L528,813.39 L528.5,815.95 L529,818.3 L529.5,820.27 L530,822.25 L530.5,824.43 L531,826.66 L531.5,828.84 L532,830.85 L532.5,832.56 L533,833.87 L533.5,834.64 L534,834.78 L534.5,834.63 L535,834.41 L535.5,834.1 L536,833.74 L536.5,833.31 L537,832.83 L537.5,832.31 L538,831.75 L538.5,831.17 L539,830.56 L539.5,829.93 L540,829.3 L540.5,828.68 L541,828.05 L541.5,827.45 L542,826.87 L542.5,826.31 L543,825.8 L543.5,825.27 L544,824.71 L544.5,824.12 L545,823.51 L545.5,822.88 L546,822.23 L546.5,821.58 L547,820.93 L547.5,820.27 L548,819.62 L548.5,818.98 L549,818.36 L549.5,817.76 L550,817.18 L550.5,816.63 L551,816.12 L551.5,815.65 L552,815.22 L552.5,814.85 L553,814.53 L553.5,814.27 L554,814.07 L554.5,813.94 L555,813.89 L555.5,813.95 L556,814.1 L556.5,814.35 L557,814.68 L557.5,815.08 L558,815.53 L558.5,816.03 L559,816.57 L559.5,817.13 L560,817.71 L560.5,818.29 L561,818.86 L561.5,819.42 L562,819.94 L562.5,820.42 L563,820.85 L563.5,821.22 L564,821.51 L564.5,821.81 L565,822.11 L565.5,822.42 L566,822.74 L566.5,823.07 L567,823.39 L567.5,823.72 L568,824.05 L568.5,824.39 L569,824.71 L569.5,825.04 L570,825.36 L570.5,825.68 L571,825.99 L571.5,826.29 L572,826.58 L572.5,826.87 L573,827.13 L573.5,827.39 L574,827.63 L574.5,827.85 L575,828.06 L575.5,828.25 L576,828.41 L576.5,828.56 L577,828.68 L577.5,828.78 L578,828.85 L578.5,828.89 L579,828.9 L579.5,828.89 L580,828.84 L580.5,828.77 L581,828.66 L581.5,828.54 L582,828.39 L582.5,828.23 L583,828.04 L583.5,827.85 L584,827.64 L584.5,827.42 L585,827.19 L585.5,826.95 L586,826.7 L586.5,826.46 L587,826.2 L587.5,825.95 L588,825.7 L588.5,825.45 L589,825.21 L589.5,824.97 L590,824.74 L590.5,824.53 L591,824.32 L591.5,824.09 L592,823.85 L592.5,823.6 L593,823.34 L593.5,823.08 L594,822.83 L594.5,822.58 L595,822.34 L595.5,822.12 L596,821.92 L596.5,821.74 L597,821.6 L597.5,821.49 L598,821.42 L598.5,821.39 L599,821.38 L599.5,821.39 L600,821.42 L600.5,821.46 L601,821.53 L601.5,821.6 L602,821.69 L602.5,821.79 L603,821.9 L603.5,822.02 L604,822.15 L604.5,822.29 L605,822.43 L605.5,822.57 L606,822.72 L606.5,822.87 L607,823.02 L607.5,823.16 L608,823.31 L608.5,823.45 L609,823.59 L609.5,823.72 L610,823.84 L610.5,823.96 L611,824.06 L611.5,824.16 L612,824.24 L612.5,824.3 L613,824.36 L613.5,824.39 L614,824.41 L614.5,824.41 L615,824.39 L615.5,824.37 L616,824.34 L616.5,824.32 L617,824.29 L617.5,824.27 L618,824.24 L618.5,824.21 L619,824.18 L619.5,824.15 L620,824.12 L620.5,824.09 L621,824.06 L621.5,824.03 L622,823.99 L622.5,823.96 L623,823.93 L623.5,823.89 L624,823.86 L624.5,823.83 L625,823.79 L625.5,823.76 L626,823.73 L626.5,823.69 L627,823.66 L627.5,823.63 L628,823.6 L628.5,823.57 L629,823.54 L629.5,823.51 L630,823.48 L630.5,823.46 L631,823.43 L631.5,823.4 L632,823.37 L632.5,823.34 L633,823.31 L633.5,823.29 L634,823.26 L634.5,823.23 L635,823.2 L635.5,823.17 L636,823.14 L636.5,823.11 L637,823.09 L637.5,823.06 L638,823.03 L638.5,823 L639,822.97 L639.5,822.95 L640,822.92 L640.5,822.89 L641,822.86 L641.5,822.84 L642,822.81 L642.5,822.78 L643,822.76 L643.5,822.73 L644,822.7 L644.5,822.68 L645,822.65 L645.5,822.63 L646,822.61 L646.5,822.58 L647,822.56 L647.5,822.54 L648,822.51 L648.5,822.49 L649,822.47 L649.5,822.45 L650,822.43 L650.5,822.41 L651,822.39 L651.5,822.37 L652,822.35 L652.5,822.34 L653,822.32 L653.5,822.3 L654,822.29 L654.5,822.3 L655,822.33 L655.5,822.37 L656,822.43 L656.5,822.5 L657,822.59 L657.5,822.68 L658,822.79 L658.5,822.91 L659,823.03 L659.5,823.16 L660,823.3 L660.5,823.44 L661,823.58 L661.5,823.72 L662,823.87 L662.5,824.02 L663,824.16 L663.5,824.3 L664,824.44 L664.5,824.57 L665,824.7 L665.5,824.82 L666,824.93 L666.5,825.03 L667,825.11 L667.5,825.19 L668,825.25 L668.5,825.3 L669,825.31 L669.5,825.28 L670,825.2 L670.5,825.08 L671,824.92 L671.5,824.72 L672,824.5 L672.5,824.25 L673,823.97 L673.5,823.68 L674,823.37 L674.5,823.05 L675,822.72 L675.5,822.39 L676,822.05 L676.5,821.72 L677,821.4" stroke="#2ca02c"/>
<path d="M373.4,847 L465,847 L465.5,846.99 L466,846.98 L466.5,846.97 L467,846.96 L467.5,846.95 L468,846.93 L468.5,846.92 L469,846.9 L469.5,846.88 L470,846.86 L470.5,846.84 L471,846.82 L471.5,846.8 L472,846.78 L472.5,846.76 L473,846.74 L473.5,846.71 L474,846.69 L474.5,846.66 L475,846.64 L475.5,846.62 L476,846.59 L476.5,846.57 L477,846.54 L477.5,846.52 L478,846.49 L478.5,846.47 L479,846.45 L479.5,846.42 L480,846.4 L480.5,846.37 L481,846.34 L481.5,846.31 L482,846.27 L482.5,846.22 L483,846.17 L483.5,846.12 L484,846.07 L484.5,846.01 L485,845.95 L485.5,845.89 L486,845.83 L486.5,845.78 L487,845.72 L487.5,845.66 L488,845.61 L488.5,845.55 L489,845.5 L489.5,845.46 L490,845.42 L490.5,845.38 L491,845.35 L491.5,845.32 L492,845.3 L492.5,845.3 L493,845.34 L493.5,845.41 L494,845.51 L494.5,845.64 L495,845.79 L495.5,845.97 L496,846.16 L496.5,846.37 L497,846.6 L497.5,846.84 L498,847.08 L498.5,847.34 L499,847.59 L499.5,847.85 L500,848.1 L500.5,848.35 L501,848.59 L501.5,848.82 L502,849.04 L502.5,849.24 L503,849.47 L503.5,849.76 L504,850.08 L504.5,850.44 L505,850.83 L505.5,851.25 L506,851.68 L506.5,852.13 L507,852.59 L507.5,853.04 L508,853.49 L508.5,853.93 L509,854.35 L509.5,854.75 L510,855.12 L510.5,855.46 L511,855.75 L511.5,856 L512,856.2 L512.5,856.34 L513,856.37 L513.5,855.18 L514,852.56 L514.5,848.99 L515,844.91 L515.5,840.8 L516,837.07 L516.5,832.67 L517,827.52 L517.5,822.3 L518,817.72 L518.5,814.47 L519,813.24 L519.5,813.91 L520,815.96 L520.5,818.95 L521,822.47 L521.5,826.1 L522,829.44 L522.5,832.95 L523,836.75 L523.5,840.63 L524,844.33 L524.5,847.62 L525,850.28 L525.5,852.72 L526,855.15 L526.5,857.47 L527,859.61 L527.5,861.48 L528,863.02 L528.5,864.13 L529,864.73 L529.5,864.77 L530,864.56 L530.5,864.31 L531,864.02 L531.5,863.69 L532,863.32 L532.5,862.92 L533,862.5 L533.5,862.06 L534,861.6 L534.5,861.12 L535,860.64 L535.5,860.15 L536,859.66 L536.5,859.18 L537,858.71 L537.5,858.24 L538,857.77 L538.5,857.3 L539,856.83 L539.5,856.36 L540,855.89 L540.5,855.41 L541,854.93 L541.5,854.44 L542,853.94 L542.5,853.43 L543,852.92 L543.5,852.39 L544,851.86 L544.5,851.3 L545,850.74 L545.5,850.16 L546,849.54 L546.5,848.78 L547,847.86 L547.5,846.8 L548,845.63 L548.5,844.37 L549,843.06 L549.5,841.71 L550,840.36 L550.5,839.02 L551,837.72 L551.5,836.48 L552,835.34 L552.5,834.31 L553,833.43 L553.5,832.71 L554,832.18 L554.5,831.87 L555,831.83 L555.5,832.24 L556,833.08 L556.5,834.27 L557,835.73 L557.5,837.37 L558,839.11 L558.5,840.87 L559,842.56 L559.5,844.1 L560,845.4 L560.5,846.39 L561,847.02 L561.5,847.57 L562,848.11 L562.5,848.64 L563,849.14 L563.5,849.61 L564,850.04 L564.5,850.42 L565,850.74 L565.5,851 L566,851.18 L566.5,851.28 L567,851.3 L567.5,851.3 L568,851.29 L568.5,851.29 L569,851.28 L569.5,851.27 L570,851.25 L570.5,851.24 L571,851.22 L571.5,851.19 L572,851.17 L572.5,851.14 L573,851.1 L573.5,851.07 L574,851.03 L574.5,850.98 L575,850.94 L575.5,850.88 L576,850.83 L576.5,850.76 L577,850.7 L577.5,850.63 L578,850.55 L578.5,850.47 L579,850.39 L579.5,850.29 L580,850.2 L580.5,850.09 L581,849.99 L581.5,849.87 L582,849.75 L582.5,849.62 L583,849.47 L583.5,849.31 L584,849.14 L584.5,848.96 L585,848.77 L585.5,848.57 L586,848.37 L586.5,848.16 L587,847.94 L587.5,847.72 L588,847.5 L588.5,847.28 L589,847.06 L589.5,846.84 L590,846.63 L590.5,846.41 L591,846.21 L591.5,846 L592,845.81 L592.5,845.62 L593,845.44 L593.5,845.27 L594,845.11 L594.5,844.97 L595,844.84 L595.5,844.72 L596,844.62 L596.5,844.54 L597,844.47 L597.5,844.43 L598,844.4 L598.5,844.4 L599,844.45 L599.5,844.53 L600,844.65 L600.5,844.8 L601,844.98 L601.5,845.18 L602,845.4 L602.5,845.64 L603,845.89 L603.5,846.15 L604,846.41 L604.5,846.67 L605,846.93 L605.5,847.17 L606,847.41 L606.5,847.63 L607,847.83 L607.5,848 L608,848.15 L608.5,848.26 L609,848.35 L609.5,848.43 L610,848.5 L610.5,848.58 L611,848.65 L611.5,848.72 L612,848.79 L612.5,848.86 L613,848.92 L613.5,848.98 L614,849.04 L614.5,849.1 L615,849.15 L615.5,849.2 L616,849.25 L616.5,849.29 L617,849.33 L617.5,849.37 L618,849.41 L618.5,849.44 L619,849.47 L619.5,849.5 L620,849.52 L620.5,849.54 L621,849.55 L621.5,849.57 L622,849.57 L622.5,849.58 L623,849.58 L623.5,849.58 L624,849.57 L624.5,849.56 L625,849.55 L625.5,849.53 L626,849.5 L626.5,849.48 L627,849.45 L627.5,849.41 L628,849.37 L628.5,849.33 L629,849.28 L629.5,849.22 L630,849.16 L630.5,849.08 L631,848.99 L631.5,848.88 L632,848.76 L632.5,848.62 L633,848.48 L633.5,848.32 L634,848.16 L634.5,847.98 L635,847.81 L635.5,847.63 L636,847.45 L636.5,847.26 L637,847.08 L637.5,846.9 L638,846.72 L638.5,846.54 L639,846.37 L639.5,846.21 L640,846.06 L640.5,845.92 L641,845.78 L641.5,845.67 L642,845.56 L642.5,845.47 L643,845.4 L643.5,845.35 L644,845.31 L644.5,845.3 L645,845.31 L645.5,845.33 L646,845.37 L646.5,845.42 L647,845.49 L647.5,845.57 L648,845.66 L648.5,845.76 L649,845.87 L649.5,845.98 L650,846.11 L650.5,846.23 L651,846.37 L651.5,846.5 L652,846.64 L652.5,846.78 L653,846.92 L653.5,847.06 L654,847.2 L654.5,847.33 L655,847.47 L655.5,847.59 L656,847.71 L656.5,847.82 L657,847.93 L657.5,848.02 L658,848.11 L658.5,848.18 L659,848.24 L659.5,848.29 L660,848.33 L660.5,848.36 L661,848.4 L661.5,848.43 L662,848.46 L662.5,848.48 L663,848.51 L663.5,848.53 L664,848.55 L664.5,848.57 L665,848.58 L665.5,848.59 L666,848.61 L666.5,848.61 L667,848.62 L667.5,848.63 L668,848.63 L668.5,848.63 L669,848.63 L669.5,848.62 L670,848.61 L670.5,848.61 L671,848.6 L671.5,848.58 L672,848.57 L672.5,848.55 L673,848.53 L673.5,848.51 L674,848.49 L674.5,848.46 L675,848.43 L675.5,848.4 L676,848.37 L676.5,848.34 L677,848.3" stroke="#ff7f0e"/>
<path d="M373.4,870.7 L466,870.7 L466.5,870.8 L467,870.99 L467.5,871.26 L468,871.58 L468.5,871.91 L469,872.25 L469.5,872.55 L470,872.8 L470.5,872.98 L471,872.78 L471.5,871.79 L472,870.29 L472.5,868.57 L473,866.94 L473.5,865.68 L474,865.1 L474.5,865.54 L475,866.99 L475.5,869.15 L476,871.75 L476.5,874.51 L477,877.13 L477.5,879.34 L478,880.86 L478.5,881.4 L479,880.92 L479.5,879.67 L480,877.81 L480.5,875.5 L481,872.92 L481.5,870.21 L482,867.55 L482.5,865.1 L483,863.01 L483.5,861.46 L484,860.61 L484.5,860.57 L485,860.96 L485.5,861.63 L486,862.54 L486.5,863.63 L487,864.84 L487.5,866.13 L488,867.45 L488.5,868.74 L489,869.95 L489.5,871.03 L490,871.92 L490.5,872.59 L491,872.96 L491.5,873 L492,872.8 L492.5,872.5 L493,872.13 L493.5,871.7 L494,871.23 L494.5,870.72 L495,870.21 L495.5,869.7 L496,869.22 L496.5,868.77 L497,868.38 L497.5,868.06 L498,867.83 L498.5,867.7 L499,867.7 L499.5,867.81 L500,867.99 L500.5,868.23 L501,868.5 L501.5,868.81 L502,869.17 L502.5,869.58 L503,870.03 L503.5,870.51 L504,871.01 L504.5,871.52 L505,872.04 L505.5,872.55 L506,873.04 L506.5,873.52 L507,873.96 L507.5,874.36 L508,874.7 L508.5,875 L509,875.22 L509.5,875.36 L510,875.41 L510.5,875.28 L511,874.99 L511.5,874.56 L512,874.01 L512.5,873.36 L513,872.63 L513.5,871.85 L514,871.03 L514.5,870.18 L515,869.35 L515.5,868.53 L516,867.76 L516.5,867.05 L517,866.43 L517.5,865.92 L518,865.52 L518.5,865.28 L519,865.2 L519.5,865.24 L520,865.32 L520.5,865.45 L521,865.62 L521.5,865.83 L522,866.07 L522.5,866.33 L523,866.62 L523.5,866.92 L524,867.24 L524.5,867.57 L525,867.9 L525.5,868.23 L526,868.56 L526.5,868.89 L527,869.2 L527.5,869.49 L528,869.76 L528.5,870.01 L529,870.22 L529.5,870.41 L530,870.55 L530.5,870.65 L531,870.71 L531.5,870.72 L532,870.68 L532.5,870.61 L533,870.51 L533.5,870.39 L534,870.23 L534.5,870.07 L535,869.89 L535.5,869.7 L536,869.5 L536.5,869.31 L537,869.12 L537.5,868.94 L538,868.78 L538.5,868.63 L539,868.51 L539.5,868.42 L540,868.36 L540.5,868.33 L541,868.35 L541.5,868.42 L542,868.63 L542.5,868.99 L543,869.47 L543.5,870.04 L544,870.67 L544.5,871.31 L545,871.94 L545.5,872.52 L546,873.02 L546.5,873.41 L547,873.64 L547.5,873.71 L548,873.67 L548.5,873.55 L549,873.38 L549.5,873.15 L550,872.88 L550.5,872.57 L551,872.24 L551.5,871.9 L552,871.55 L552.5,871.2 L553,870.88 L553.5,870.57 L554,870.31 L554.5,870.08 L555,869.91 L555.5,869.81 L556,869.78 L556.5,869.83 L557,869.95 L557.5,870.13 L558,870.36 L558.5,870.63 L559,870.92 L559.5,871.24 L560,871.55 L560.5,871.87 L561,872.17 L561.5,872.44 L562,872.68 L562.5,872.88 L563,873.02 L563.5,873.09 L564,873.09 L564.5,873.03 L565,872.9 L565.5,872.73 L566,872.52 L566.5,872.27 L567,871.99 L567.5,871.69 L568,871.37 L568.5,871.03 L569,870.69 L569.5,870.36 L570,870.03 L570.5,869.71 L571,869.41 L571.5,869.14 L572,868.9 L572.5,868.7 L573,868.55 L573.5,868.44 L574,868.4 L574.5,868.41 L575,868.46 L575.5,868.53 L576,868.62 L576.5,868.73 L577,868.85 L577.5,868.99 L578,869.15 L578.5,869.32 L579,869.49 L579.5,869.68 L580,869.87 L580.5,870.06 L581,870.26 L581.5,870.46 L582,870.66 L582.5,870.85 L583,871.04 L583.5,871.22 L584,871.39 L584.5,871.55 L585,871.7 L585.5,871.83 L586,871.95 L586.5,872.05 L587,872.12 L587.5,872.18 L588,872.21 L588.5,872.24 L589,872.27 L589.5,872.29 L590,872.31 L590.5,872.33 L591,872.35 L591.5,872.37 L592,872.39 L592.5,872.4 L593,872.41 L593.5,872.41 L594,872.42 L594.5,872.42 L595,872.42 L595.5,872.41 L596,872.4 L596.5,872.39 L597,872.37 L597.5,872.35 L598,872.32 L598.5,872.29 L599,872.26 L599.5,872.22 L600,872.17 L600.5,872.12 L601,872.06 L601.5,872 L602,871.93 L602.5,871.85 L603,871.77 L603.5,871.69 L604,871.6 L604.5,871.51 L605,871.42 L605.5,871.33 L606,871.24 L606.5,871.14 L607,871.05 L607.5,870.96 L608,870.87 L608.5,870.78 L609,870.69 L609.5,870.61 L610,870.53 L610.5,870.46 L611,870.39 L611.5,870.33 L612,870.27 L612.5,870.22 L613,870.18 L613.5,870.15 L614,870.12 L614.5,870.1 L615,870.1 L615.5,870.1 L616,870.11 L616.5,870.13 L617,870.15 L617.5,870.18 L618,870.22 L618.5,870.26 L619,870.31 L619.5,870.36 L620,870.41 L620.5,870.47 L621,870.52 L621.5,870.59 L622,870.65 L622.5,870.71 L623,870.77 L623.5,870.83 L624,870.89 L624.5,870.95 L625,871.01 L625.5,871.06 L626,871.11 L626.5,871.15 L627,871.19 L627.5,871.23 L628,871.25 L628.5,871.28 L629,871.29 L629.5,871.3 L630,871.3 L630.5,871.29 L631,871.27 L631.5,871.25 L632,871.22 L632.5,871.18 L633,871.14 L633.5,871.1 L634,871.05 L634.5,871 L635,870.94 L635.5,870.88 L636,870.82 L636.5,870.76 L637,870.7 L637.5,870.64 L638,870.58 L638.5,870.52 L639,870.46 L639.5,870.41 L640,870.35 L640.5,870.3 L641,870.26 L641.5,870.22 L642,870.18 L642.5,870.15 L643,870.13 L643.5,870.11 L644,870.1 L644.5,870.1 L645,870.11 L645.5,870.13 L646,870.15 L646.5,870.19 L647,870.24 L647.5,870.3 L648,870.36 L648.5,870.43 L649,870.5 L649.5,870.58 L650,870.67 L650.5,870.76 L651,870.85 L651.5,870.94 L652,871.04 L652.5,871.13 L653,871.23 L653.5,871.33 L654,871.42 L654.5,871.52 L655,871.61 L655.5,871.7 L656,871.78 L656.5,871.86 L657,871.93 L657.5,872 L658,872.06 L658.5,872.11 L659,872.16 L659.5,872.19 L660,872.22 L660.5,872.25 L661,872.26 L661.5,872.28 L662,872.29 L662.5,872.3 L663,872.3 L663.5,872.3 L664,872.29 L664.5,872.28 L665,872.27 L665.5,872.26 L666,872.24 L666.5,872.22 L667,872.19 L667.5,872.17 L668,872.14 L668.5,872.11 L669,872.07 L669.5,872.03 L670,872 L670.5,871.95 L671,871.91 L671.5,871.87 L672,871.82 L672.5,871.77 L673,871.72 L673.5,871.67 L674,871.62 L674.5,871.57 L675,871.52 L675.5,871.46 L676,871.41 L676.5,871.36 L677,871.3" stroke="#1f77b4"/>
</g>
<text x="386" y="866.8" font-size="10.37" textLength="28.12" lengthAdjust="spacingAndGlyphs">Day 1</text>
<text x="386" y="843.29" font-size="10.37" textLength="28.12" lengthAdjust="spacingAndGlyphs">Day 2</text>
<text x="386" y="819.78" font-size="10.37" textLength="28.12" lengthAdjust="spacingAndGlyphs">Day 3</text>
<text x="386" y="796.27" font-size="10.37" textLength="28.12" lengthAdjust="spacingAndGlyphs">Day 4</text>
<text x="386" y="772.76" font-size="10.37" textLength="28.12" lengthAdjust="spacingAndGlyphs">Day 5</text>
<text x="386" y="749.25" font-size="10.37" textLength="28.12" lengthAdjust="spacingAndGlyphs">Day 6</text>
<text x="386" y="725.74" font-size="10.37" textLength="28.12" lengthAdjust="spacingAndGlyphs">Day 7</text>
<text x="386" y="702.23" font-size="10.37" textLength="28.12" lengthAdjust="spacingAndGlyphs">Day 8</text>
<text x="386" y="678.72" font-size="10.37" textLength="28.12" lengthAdjust="spacingAndGlyphs">Day 9</text>
<text x="489" y="668.1" font-size="10.37" textLength="11.9" lengthAdjust="spacingAndGlyphs">P1</text>
<text x="525.5" y="668" font-size="10.37" textLength="11.9" lengthAdjust="spacingAndGlyphs">P2</text>
<rect x="373.4" y="647.2" width="303.6" height="240.9" fill="none" stroke="#606060" stroke-width="1"/>
<line x1="434.2" y1="888.1" x2="434.2" y2="878.6" stroke="#606060" stroke-width="1"/>
<line x1="495" y1="888.1" x2="495" y2="878.6" stroke="#606060" stroke-width="1"/>
<line x1="555.8" y1="888.1" x2="555.8" y2="878.6" stroke="#606060" stroke-width="1"/>
<line x1="616.6" y1="888.1" x2="616.6" y2="878.6" stroke="#606060" stroke-width="1"/>
<text x="373.4" y="901.48" font-size="15.34" text-anchor="middle" stroke="#000" stroke-width="0.2" textLength="9.03" lengthAdjust="spacingAndGlyphs">5</text>
<text x="434.2" y="901.48" font-size="15.34" text-anchor="middle" stroke="#000" stroke-width="0.2" textLength="9.03" lengthAdjust="spacingAndGlyphs">6</text>
<text x="495" y="901.48" font-size="15.34" text-anchor="middle" stroke="#000" stroke-width="0.2" textLength="9.03" lengthAdjust="spacingAndGlyphs">7</text>
<text x="555.8" y="901.48" font-size="15.34" text-anchor="middle" stroke="#000" stroke-width="0.2" textLength="9.03" lengthAdjust="spacingAndGlyphs">8</text>
<text x="616.6" y="901.48" font-size="15.34" text-anchor="middle" stroke="#000" stroke-width="0.2" textLength="9.03" lengthAdjust="spacingAndGlyphs">9</text>
<text x="677.4" y="901.48" font-size="15.34" text-anchor="middle" stroke="#000" stroke-width="0.2" textLength="18.07" lengthAdjust="spacingAndGlyphs">10</text>
<text x="525.2" y="916.53" font-size="14.9" text-anchor="middle" stroke="#000" stroke-width="0.2" textLength="65.32" lengthAdjust="spacingAndGlyphs">Time (µs)</text>
<text x="368.4" y="767.7" font-size="14.9" text-anchor="middle" stroke="#000" stroke-width="0.2" textLength="70.72" lengthAdjust="spacingAndGlyphs" transform="rotate(-90 368.4 767.7)">Amplitude</text>
</svg>
</body></html>
